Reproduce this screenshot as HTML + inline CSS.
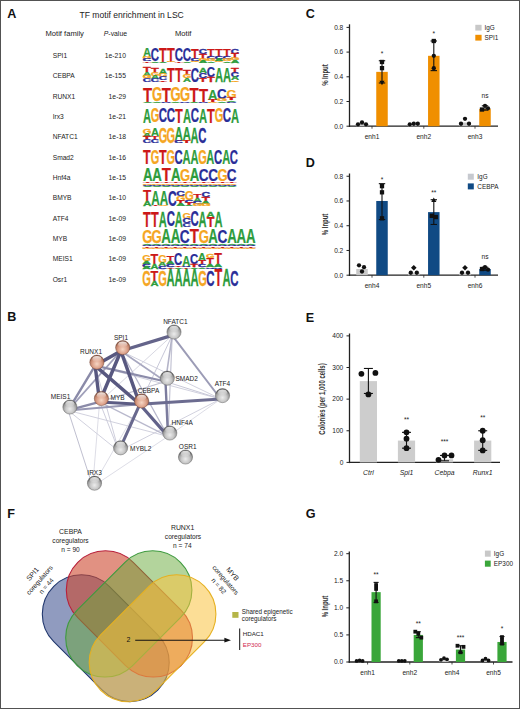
<!DOCTYPE html>
<html><head><meta charset="utf-8"><style>
html,body{margin:0;padding:0;background:#fff;}
#fig{position:relative;width:520px;height:709px;overflow:hidden;background:#fff;}
#fig svg{position:absolute;left:0;top:0;}
text{font-family:"Liberation Sans", sans-serif;}
</style></head><body>
<div id="fig">
<svg width="520" height="709" viewBox="0 0 520 709">
<rect x="0" y="0" width="520" height="709" fill="#fff"/>
<text x="7.30" y="18.40" font-size="12.6" text-anchor="start" font-weight="bold" fill="#111" >A</text>
<text x="79.5" y="17.8" font-size="9.1" fill="#222" textLength="104.3" lengthAdjust="spacingAndGlyphs">TF motif enrichment in LSC</text>
<text x="45.50" y="36.00" font-size="7.6" text-anchor="start" font-weight="normal" fill="#222" >Motif family</text>
<text x="103.8" y="36" font-size="7.6" fill="#222" textLength="23.2" lengthAdjust="spacingAndGlyphs"><tspan font-style="italic">P</tspan>-value</text>
<text x="175.00" y="36.00" font-size="7.6" text-anchor="start" font-weight="normal" fill="#222" >Motif</text>
<text transform="translate(52.7,57.90) scale(0.875,1)" font-size="7.6" fill="#222">SPI1</text>
<text transform="translate(125.9,57.90) scale(0.89,1)" font-size="7.6" fill="#222" text-anchor="end">1e-210</text>
<text transform="translate(142.97,57.41) scale(0.1118,0.1294)" font-size="100" font-weight="bold" fill="#2d9c3c" stroke="#2d9c3c" stroke-width="0.2" vector-effect="non-scaling-stroke">A</text>
<text transform="translate(142.79,59.29) scale(0.1111,0.0269)" font-size="100" font-weight="bold" fill="#f5a623" stroke="#f5a623" stroke-width="0.7" vector-effect="non-scaling-stroke">G</text>
<text transform="translate(142.78,61.20) scale(0.1147,0.0269)" font-size="100" font-weight="bold" fill="#2a2e98" stroke="#2a2e98" stroke-width="0.7" vector-effect="non-scaling-stroke">C</text>
<text transform="translate(143.11,62.50) scale(0.1274,0.0185)" font-size="100" font-weight="bold" fill="#cc1818" stroke="#cc1818" stroke-width="0.7" vector-effect="non-scaling-stroke">T</text>
<text transform="translate(150.78,61.37) scale(0.1147,0.1842)" font-size="100" font-weight="bold" fill="#2a2e98" stroke="#2a2e98" stroke-width="0.2" vector-effect="non-scaling-stroke">C</text>
<text transform="translate(150.97,62.50) scale(0.1118,0.0139)" font-size="100" font-weight="bold" fill="#2d9c3c" stroke="#2d9c3c" stroke-width="0.7" vector-effect="non-scaling-stroke">A</text>
<text transform="translate(159.11,61.70) scale(0.1274,0.1964)" font-size="100" font-weight="bold" fill="#cc1818" stroke="#cc1818" stroke-width="0.2" vector-effect="non-scaling-stroke">T</text>
<text transform="translate(158.97,62.50) scale(0.1118,0.0116)" font-size="100" font-weight="bold" fill="#2d9c3c" stroke="#2d9c3c" stroke-width="0.7" vector-effect="non-scaling-stroke">A</text>
<text transform="translate(167.11,61.70) scale(0.1274,0.1964)" font-size="100" font-weight="bold" fill="#cc1818" stroke="#cc1818" stroke-width="0.2" vector-effect="non-scaling-stroke">T</text>
<text transform="translate(166.79,62.49) scale(0.1111,0.0112)" font-size="100" font-weight="bold" fill="#f5a623" stroke="#f5a623" stroke-width="0.7" vector-effect="non-scaling-stroke">G</text>
<text transform="translate(174.78,61.37) scale(0.1147,0.1842)" font-size="100" font-weight="bold" fill="#2a2e98" stroke="#2a2e98" stroke-width="0.2" vector-effect="non-scaling-stroke">C</text>
<text transform="translate(175.11,62.50) scale(0.1274,0.0139)" font-size="100" font-weight="bold" fill="#cc1818" stroke="#cc1818" stroke-width="0.7" vector-effect="non-scaling-stroke">T</text>
<text transform="translate(182.78,61.37) scale(0.1147,0.1842)" font-size="100" font-weight="bold" fill="#2a2e98" stroke="#2a2e98" stroke-width="0.2" vector-effect="non-scaling-stroke">C</text>
<text transform="translate(182.97,62.50) scale(0.1118,0.0139)" font-size="100" font-weight="bold" fill="#2d9c3c" stroke="#2d9c3c" stroke-width="0.7" vector-effect="non-scaling-stroke">A</text>
<text transform="translate(191.11,59.00) scale(0.1274,0.1433)" font-size="100" font-weight="bold" fill="#cc1818" stroke="#cc1818" stroke-width="0.2" vector-effect="non-scaling-stroke">T</text>
<text transform="translate(190.78,60.88) scale(0.1147,0.0269)" font-size="100" font-weight="bold" fill="#2a2e98" stroke="#2a2e98" stroke-width="0.7" vector-effect="non-scaling-stroke">C</text>
<text transform="translate(190.79,62.48) scale(0.1111,0.0225)" font-size="100" font-weight="bold" fill="#f5a623" stroke="#f5a623" stroke-width="0.7" vector-effect="non-scaling-stroke">G</text>
<text transform="translate(198.78,54.16) scale(0.1147,0.0719)" font-size="100" font-weight="bold" fill="#2a2e98" stroke="#2a2e98" stroke-width="0.4" vector-effect="non-scaling-stroke">C</text>
<text transform="translate(199.11,58.68) scale(0.1274,0.0647)" font-size="100" font-weight="bold" fill="#cc1818" stroke="#cc1818" stroke-width="0.4" vector-effect="non-scaling-stroke">T</text>
<text transform="translate(198.79,60.57) scale(0.1111,0.0269)" font-size="100" font-weight="bold" fill="#f5a623" stroke="#f5a623" stroke-width="0.7" vector-effect="non-scaling-stroke">G</text>
<text transform="translate(198.97,62.50) scale(0.1118,0.0277)" font-size="100" font-weight="bold" fill="#2d9c3c" stroke="#2d9c3c" stroke-width="0.7" vector-effect="non-scaling-stroke">A</text>
<text transform="translate(207.11,56.94) scale(0.1274,0.1156)" font-size="100" font-weight="bold" fill="#cc1818" stroke="#cc1818" stroke-width="0.2" vector-effect="non-scaling-stroke">T</text>
<text transform="translate(206.78,59.29) scale(0.1147,0.0337)" font-size="100" font-weight="bold" fill="#2a2e98" stroke="#2a2e98" stroke-width="0.7" vector-effect="non-scaling-stroke">C</text>
<text transform="translate(206.79,61.20) scale(0.1111,0.0269)" font-size="100" font-weight="bold" fill="#f5a623" stroke="#f5a623" stroke-width="0.7" vector-effect="non-scaling-stroke">G</text>
<text transform="translate(206.97,62.50) scale(0.1118,0.0185)" font-size="100" font-weight="bold" fill="#2d9c3c" stroke="#2d9c3c" stroke-width="0.7" vector-effect="non-scaling-stroke">A</text>
<text transform="translate(215.11,56.94) scale(0.1274,0.1156)" font-size="100" font-weight="bold" fill="#cc1818" stroke="#cc1818" stroke-width="0.2" vector-effect="non-scaling-stroke">T</text>
<text transform="translate(214.78,59.29) scale(0.1147,0.0337)" font-size="100" font-weight="bold" fill="#2a2e98" stroke="#2a2e98" stroke-width="0.7" vector-effect="non-scaling-stroke">C</text>
<text transform="translate(214.97,61.23) scale(0.1118,0.0277)" font-size="100" font-weight="bold" fill="#2d9c3c" stroke="#2d9c3c" stroke-width="0.7" vector-effect="non-scaling-stroke">A</text>
<text transform="translate(214.79,62.48) scale(0.1111,0.0180)" font-size="100" font-weight="bold" fill="#f5a623" stroke="#f5a623" stroke-width="0.7" vector-effect="non-scaling-stroke">G</text>
<text transform="translate(223.11,56.62) scale(0.1274,0.1040)" font-size="100" font-weight="bold" fill="#cc1818" stroke="#cc1818" stroke-width="0.2" vector-effect="non-scaling-stroke">T</text>
<text transform="translate(222.78,58.97) scale(0.1147,0.0337)" font-size="100" font-weight="bold" fill="#2a2e98" stroke="#2a2e98" stroke-width="0.7" vector-effect="non-scaling-stroke">C</text>
<text transform="translate(222.79,60.88) scale(0.1111,0.0269)" font-size="100" font-weight="bold" fill="#f5a623" stroke="#f5a623" stroke-width="0.7" vector-effect="non-scaling-stroke">G</text>
<text transform="translate(222.97,62.50) scale(0.1118,0.0231)" font-size="100" font-weight="bold" fill="#2d9c3c" stroke="#2d9c3c" stroke-width="0.7" vector-effect="non-scaling-stroke">A</text>
<text transform="translate(230.78,53.85) scale(0.1147,0.0629)" font-size="100" font-weight="bold" fill="#2a2e98" stroke="#2a2e98" stroke-width="0.4" vector-effect="non-scaling-stroke">C</text>
<text transform="translate(231.11,58.37) scale(0.1274,0.0647)" font-size="100" font-weight="bold" fill="#cc1818" stroke="#cc1818" stroke-width="0.4" vector-effect="non-scaling-stroke">T</text>
<text transform="translate(230.79,60.25) scale(0.1111,0.0269)" font-size="100" font-weight="bold" fill="#f5a623" stroke="#f5a623" stroke-width="0.7" vector-effect="non-scaling-stroke">G</text>
<text transform="translate(230.97,62.50) scale(0.1118,0.0324)" font-size="100" font-weight="bold" fill="#2d9c3c" stroke="#2d9c3c" stroke-width="0.7" vector-effect="non-scaling-stroke">A</text>
<text transform="translate(52.7,78.25) scale(0.875,1)" font-size="7.6" fill="#222">CEBPA</text>
<text transform="translate(125.9,78.25) scale(0.89,1)" font-size="7.6" fill="#222" text-anchor="end">1e-155</text>
<text transform="translate(143.11,72.20) scale(0.1274,0.0643)" font-size="100" font-weight="bold" fill="#cc1818" stroke="#cc1818" stroke-width="0.4" vector-effect="non-scaling-stroke">T</text>
<text transform="translate(142.97,75.68) scale(0.1118,0.0505)" font-size="100" font-weight="bold" fill="#2d9c3c" stroke="#2d9c3c" stroke-width="0.4" vector-effect="non-scaling-stroke">A</text>
<text transform="translate(142.79,78.48) scale(0.1111,0.0402)" font-size="100" font-weight="bold" fill="#f5a623" stroke="#f5a623" stroke-width="0.7" vector-effect="non-scaling-stroke">G</text>
<text transform="translate(142.78,81.95) scale(0.1147,0.0491)" font-size="100" font-weight="bold" fill="#2a2e98" stroke="#2a2e98" stroke-width="0.4" vector-effect="non-scaling-stroke">C</text>
<text transform="translate(151.11,72.52) scale(0.1274,0.0689)" font-size="100" font-weight="bold" fill="#cc1818" stroke="#cc1818" stroke-width="0.4" vector-effect="non-scaling-stroke">T</text>
<text transform="translate(150.79,75.64) scale(0.1111,0.0446)" font-size="100" font-weight="bold" fill="#f5a623" stroke="#f5a623" stroke-width="0.4" vector-effect="non-scaling-stroke">G</text>
<text transform="translate(150.97,78.84) scale(0.1118,0.0459)" font-size="100" font-weight="bold" fill="#2d9c3c" stroke="#2d9c3c" stroke-width="0.4" vector-effect="non-scaling-stroke">A</text>
<text transform="translate(150.78,81.96) scale(0.1147,0.0446)" font-size="100" font-weight="bold" fill="#2a2e98" stroke="#2a2e98" stroke-width="0.4" vector-effect="non-scaling-stroke">C</text>
<text transform="translate(158.97,73.78) scale(0.1118,0.0735)" font-size="100" font-weight="bold" fill="#2d9c3c" stroke="#2d9c3c" stroke-width="0.4" vector-effect="non-scaling-stroke">A</text>
<text transform="translate(158.79,76.90) scale(0.1111,0.0446)" font-size="100" font-weight="bold" fill="#f5a623" stroke="#f5a623" stroke-width="0.4" vector-effect="non-scaling-stroke">G</text>
<text transform="translate(158.78,80.37) scale(0.1147,0.0491)" font-size="100" font-weight="bold" fill="#2a2e98" stroke="#2a2e98" stroke-width="0.4" vector-effect="non-scaling-stroke">C</text>
<text transform="translate(159.11,82.00) scale(0.1274,0.0230)" font-size="100" font-weight="bold" fill="#cc1818" stroke="#cc1818" stroke-width="0.7" vector-effect="non-scaling-stroke">T</text>
<text transform="translate(167.11,82.00) scale(0.1274,0.2113)" font-size="100" font-weight="bold" fill="#cc1818" stroke="#cc1818" stroke-width="0.2" vector-effect="non-scaling-stroke">T</text>
<text transform="translate(175.11,82.00) scale(0.1274,0.2113)" font-size="100" font-weight="bold" fill="#cc1818" stroke="#cc1818" stroke-width="0.2" vector-effect="non-scaling-stroke">T</text>
<text transform="translate(183.11,74.57) scale(0.1274,0.0804)" font-size="100" font-weight="bold" fill="#cc1818" stroke="#cc1818" stroke-width="0.4" vector-effect="non-scaling-stroke">T</text>
<text transform="translate(182.79,78.47) scale(0.1111,0.0558)" font-size="100" font-weight="bold" fill="#f5a623" stroke="#f5a623" stroke-width="0.4" vector-effect="non-scaling-stroke">G</text>
<text transform="translate(182.97,82.00) scale(0.1118,0.0505)" font-size="100" font-weight="bold" fill="#2d9c3c" stroke="#2d9c3c" stroke-width="0.4" vector-effect="non-scaling-stroke">A</text>
<text transform="translate(190.78,81.80) scale(0.1147,0.2008)" font-size="100" font-weight="bold" fill="#2a2e98" stroke="#2a2e98" stroke-width="0.2" vector-effect="non-scaling-stroke">C</text>
<text transform="translate(198.97,73.31) scale(0.1118,0.0804)" font-size="100" font-weight="bold" fill="#2d9c3c" stroke="#2d9c3c" stroke-width="0.4" vector-effect="non-scaling-stroke">A</text>
<text transform="translate(198.78,77.98) scale(0.1147,0.0669)" font-size="100" font-weight="bold" fill="#2a2e98" stroke="#2a2e98" stroke-width="0.4" vector-effect="non-scaling-stroke">C</text>
<text transform="translate(199.11,82.00) scale(0.1274,0.0574)" font-size="100" font-weight="bold" fill="#cc1818" stroke="#cc1818" stroke-width="0.4" vector-effect="non-scaling-stroke">T</text>
<text transform="translate(206.78,77.44) scale(0.1147,0.1384)" font-size="100" font-weight="bold" fill="#2a2e98" stroke="#2a2e98" stroke-width="0.2" vector-effect="non-scaling-stroke">C</text>
<text transform="translate(207.11,82.00) scale(0.1274,0.0643)" font-size="100" font-weight="bold" fill="#cc1818" stroke="#cc1818" stroke-width="0.4" vector-effect="non-scaling-stroke">T</text>
<text transform="translate(214.97,82.00) scale(0.1118,0.2113)" font-size="100" font-weight="bold" fill="#2d9c3c" stroke="#2d9c3c" stroke-width="0.2" vector-effect="non-scaling-stroke">A</text>
<text transform="translate(222.97,82.00) scale(0.1118,0.2113)" font-size="100" font-weight="bold" fill="#2d9c3c" stroke="#2d9c3c" stroke-width="0.2" vector-effect="non-scaling-stroke">A</text>
<text transform="translate(231.11,72.52) scale(0.1274,0.0689)" font-size="100" font-weight="bold" fill="#cc1818" stroke="#cc1818" stroke-width="0.4" vector-effect="non-scaling-stroke">T</text>
<text transform="translate(230.78,77.19) scale(0.1147,0.0669)" font-size="100" font-weight="bold" fill="#2a2e98" stroke="#2a2e98" stroke-width="0.4" vector-effect="non-scaling-stroke">C</text>
<text transform="translate(230.97,80.42) scale(0.1118,0.0459)" font-size="100" font-weight="bold" fill="#2d9c3c" stroke="#2d9c3c" stroke-width="0.4" vector-effect="non-scaling-stroke">A</text>
<text transform="translate(230.79,81.98) scale(0.1111,0.0223)" font-size="100" font-weight="bold" fill="#f5a623" stroke="#f5a623" stroke-width="0.7" vector-effect="non-scaling-stroke">G</text>
<text transform="translate(52.7,98.60) scale(0.875,1)" font-size="7.6" fill="#222">RUNX1</text>
<text transform="translate(125.9,98.60) scale(0.89,1)" font-size="7.6" fill="#222" text-anchor="end">1e-29</text>
<text transform="translate(143.08,101.67) scale(0.1494,0.2027)" font-size="100" font-weight="bold" fill="#cc1818" stroke="#cc1818" stroke-width="0.2" vector-effect="non-scaling-stroke">T</text>
<text transform="translate(142.92,103.00) scale(0.1312,0.0193)" font-size="100" font-weight="bold" fill="#2d9c3c" stroke="#2d9c3c" stroke-width="0.7" vector-effect="non-scaling-stroke">A</text>
<text transform="translate(152.02,101.48) scale(0.1304,0.1969)" font-size="100" font-weight="bold" fill="#f5a623" stroke="#f5a623" stroke-width="0.2" vector-effect="non-scaling-stroke">G</text>
<text transform="translate(152.22,103.00) scale(0.1312,0.0193)" font-size="100" font-weight="bold" fill="#2d9c3c" stroke="#2d9c3c" stroke-width="0.7" vector-effect="non-scaling-stroke">A</text>
<text transform="translate(161.68,101.67) scale(0.1494,0.2027)" font-size="100" font-weight="bold" fill="#cc1818" stroke="#cc1818" stroke-width="0.2" vector-effect="non-scaling-stroke">T</text>
<text transform="translate(161.30,102.98) scale(0.1346,0.0188)" font-size="100" font-weight="bold" fill="#2a2e98" stroke="#2a2e98" stroke-width="0.7" vector-effect="non-scaling-stroke">C</text>
<text transform="translate(170.62,101.48) scale(0.1304,0.1969)" font-size="100" font-weight="bold" fill="#f5a623" stroke="#f5a623" stroke-width="0.2" vector-effect="non-scaling-stroke">G</text>
<text transform="translate(170.82,103.00) scale(0.1312,0.0193)" font-size="100" font-weight="bold" fill="#2d9c3c" stroke="#2d9c3c" stroke-width="0.7" vector-effect="non-scaling-stroke">A</text>
<text transform="translate(179.92,101.48) scale(0.1304,0.1969)" font-size="100" font-weight="bold" fill="#f5a623" stroke="#f5a623" stroke-width="0.2" vector-effect="non-scaling-stroke">G</text>
<text transform="translate(179.90,102.98) scale(0.1346,0.0188)" font-size="100" font-weight="bold" fill="#2a2e98" stroke="#2a2e98" stroke-width="0.7" vector-effect="non-scaling-stroke">C</text>
<text transform="translate(189.58,101.67) scale(0.1494,0.2027)" font-size="100" font-weight="bold" fill="#cc1818" stroke="#cc1818" stroke-width="0.2" vector-effect="non-scaling-stroke">T</text>
<text transform="translate(189.42,103.00) scale(0.1312,0.0193)" font-size="100" font-weight="bold" fill="#2d9c3c" stroke="#2d9c3c" stroke-width="0.7" vector-effect="non-scaling-stroke">A</text>
<text transform="translate(198.88,101.67) scale(0.1494,0.1834)" font-size="100" font-weight="bold" fill="#cc1818" stroke="#cc1818" stroke-width="0.2" vector-effect="non-scaling-stroke">T</text>
<text transform="translate(198.50,102.98) scale(0.1346,0.0188)" font-size="100" font-weight="bold" fill="#2a2e98" stroke="#2a2e98" stroke-width="0.7" vector-effect="non-scaling-stroke">C</text>
<text transform="translate(208.02,99.68) scale(0.1312,0.1544)" font-size="100" font-weight="bold" fill="#2d9c3c" stroke="#2d9c3c" stroke-width="0.2" vector-effect="non-scaling-stroke">A</text>
<text transform="translate(208.18,101.67) scale(0.1494,0.0290)" font-size="100" font-weight="bold" fill="#cc1818" stroke="#cc1818" stroke-width="0.7" vector-effect="non-scaling-stroke">T</text>
<text transform="translate(207.82,102.98) scale(0.1304,0.0188)" font-size="100" font-weight="bold" fill="#f5a623" stroke="#f5a623" stroke-width="0.7" vector-effect="non-scaling-stroke">G</text>
<text transform="translate(217.10,99.21) scale(0.1346,0.1407)" font-size="100" font-weight="bold" fill="#2a2e98" stroke="#2a2e98" stroke-width="0.2" vector-effect="non-scaling-stroke">C</text>
<text transform="translate(217.12,101.31) scale(0.1304,0.0281)" font-size="100" font-weight="bold" fill="#f5a623" stroke="#f5a623" stroke-width="0.7" vector-effect="non-scaling-stroke">G</text>
<text transform="translate(217.32,103.00) scale(0.1312,0.0241)" font-size="100" font-weight="bold" fill="#2d9c3c" stroke="#2d9c3c" stroke-width="0.7" vector-effect="non-scaling-stroke">A</text>
<text transform="translate(226.42,97.57) scale(0.1304,0.1172)" font-size="100" font-weight="bold" fill="#f5a623" stroke="#f5a623" stroke-width="0.2" vector-effect="non-scaling-stroke">G</text>
<text transform="translate(226.78,100.34) scale(0.1494,0.0386)" font-size="100" font-weight="bold" fill="#cc1818" stroke="#cc1818" stroke-width="0.7" vector-effect="non-scaling-stroke">T</text>
<text transform="translate(226.62,102.00) scale(0.1312,0.0241)" font-size="100" font-weight="bold" fill="#2d9c3c" stroke="#2d9c3c" stroke-width="0.7" vector-effect="non-scaling-stroke">A</text>
<text transform="translate(226.40,102.99) scale(0.1346,0.0141)" font-size="100" font-weight="bold" fill="#2a2e98" stroke="#2a2e98" stroke-width="0.7" vector-effect="non-scaling-stroke">C</text>
<text transform="translate(52.7,118.95) scale(0.875,1)" font-size="7.6" fill="#222">Irx3</text>
<text transform="translate(125.9,118.95) scale(0.89,1)" font-size="7.6" fill="#222" text-anchor="end">1e-21</text>
<text transform="translate(142.97,122.60) scale(0.1118,0.2049)" font-size="100" font-weight="bold" fill="#2d9c3c" stroke="#2d9c3c" stroke-width="0.2" vector-effect="non-scaling-stroke">A</text>
<text transform="translate(150.79,122.41) scale(0.1111,0.1992)" font-size="100" font-weight="bold" fill="#f5a623" stroke="#f5a623" stroke-width="0.2" vector-effect="non-scaling-stroke">G</text>
<text transform="translate(158.78,122.41) scale(0.1147,0.1992)" font-size="100" font-weight="bold" fill="#2a2e98" stroke="#2a2e98" stroke-width="0.2" vector-effect="non-scaling-stroke">C</text>
<text transform="translate(166.78,122.41) scale(0.1147,0.1992)" font-size="100" font-weight="bold" fill="#2a2e98" stroke="#2a2e98" stroke-width="0.2" vector-effect="non-scaling-stroke">C</text>
<text transform="translate(175.11,122.60) scale(0.1274,0.2049)" font-size="100" font-weight="bold" fill="#cc1818" stroke="#cc1818" stroke-width="0.2" vector-effect="non-scaling-stroke">T</text>
<text transform="translate(182.97,122.60) scale(0.1118,0.2049)" font-size="100" font-weight="bold" fill="#2d9c3c" stroke="#2d9c3c" stroke-width="0.2" vector-effect="non-scaling-stroke">A</text>
<text transform="translate(190.78,122.41) scale(0.1147,0.1992)" font-size="100" font-weight="bold" fill="#2a2e98" stroke="#2a2e98" stroke-width="0.2" vector-effect="non-scaling-stroke">C</text>
<text transform="translate(198.97,122.60) scale(0.1118,0.2049)" font-size="100" font-weight="bold" fill="#2d9c3c" stroke="#2d9c3c" stroke-width="0.2" vector-effect="non-scaling-stroke">A</text>
<text transform="translate(207.11,122.60) scale(0.1274,0.2049)" font-size="100" font-weight="bold" fill="#cc1818" stroke="#cc1818" stroke-width="0.2" vector-effect="non-scaling-stroke">T</text>
<text transform="translate(214.79,122.41) scale(0.1111,0.1992)" font-size="100" font-weight="bold" fill="#f5a623" stroke="#f5a623" stroke-width="0.2" vector-effect="non-scaling-stroke">G</text>
<text transform="translate(222.78,122.41) scale(0.1147,0.1992)" font-size="100" font-weight="bold" fill="#2a2e98" stroke="#2a2e98" stroke-width="0.2" vector-effect="non-scaling-stroke">C</text>
<text transform="translate(230.97,122.60) scale(0.1118,0.2049)" font-size="100" font-weight="bold" fill="#2d9c3c" stroke="#2d9c3c" stroke-width="0.2" vector-effect="non-scaling-stroke">A</text>
<text transform="translate(52.7,139.30) scale(0.875,1)" font-size="7.6" fill="#222">NFATC1</text>
<text transform="translate(125.9,139.30) scale(0.89,1)" font-size="7.6" fill="#222" text-anchor="end">1e-18</text>
<text transform="translate(142.80,133.58) scale(0.1102,0.0661)" font-size="100" font-weight="bold" fill="#f5a623" stroke="#f5a623" stroke-width="0.4" vector-effect="non-scaling-stroke">G</text>
<text transform="translate(142.97,136.76) scale(0.1109,0.0453)" font-size="100" font-weight="bold" fill="#2d9c3c" stroke="#2d9c3c" stroke-width="0.4" vector-effect="non-scaling-stroke">A</text>
<text transform="translate(143.11,139.10) scale(0.1263,0.0340)" font-size="100" font-weight="bold" fill="#cc1818" stroke="#cc1818" stroke-width="0.7" vector-effect="non-scaling-stroke">T</text>
<text transform="translate(142.78,142.95) scale(0.1138,0.0551)" font-size="100" font-weight="bold" fill="#2a2e98" stroke="#2a2e98" stroke-width="0.4" vector-effect="non-scaling-stroke">C</text>
<text transform="translate(150.91,135.67) scale(0.1109,0.1020)" font-size="100" font-weight="bold" fill="#2d9c3c" stroke="#2d9c3c" stroke-width="0.2" vector-effect="non-scaling-stroke">A</text>
<text transform="translate(151.05,139.57) scale(0.1263,0.0567)" font-size="100" font-weight="bold" fill="#cc1818" stroke="#cc1818" stroke-width="0.4" vector-effect="non-scaling-stroke">T</text>
<text transform="translate(150.72,142.95) scale(0.1138,0.0485)" font-size="100" font-weight="bold" fill="#2a2e98" stroke="#2a2e98" stroke-width="0.4" vector-effect="non-scaling-stroke">C</text>
<text transform="translate(158.67,142.78) scale(0.1102,0.2203)" font-size="100" font-weight="bold" fill="#f5a623" stroke="#f5a623" stroke-width="0.2" vector-effect="non-scaling-stroke">G</text>
<text transform="translate(166.61,142.78) scale(0.1102,0.2203)" font-size="100" font-weight="bold" fill="#f5a623" stroke="#f5a623" stroke-width="0.2" vector-effect="non-scaling-stroke">G</text>
<text transform="translate(174.72,139.57) scale(0.1109,0.1769)" font-size="100" font-weight="bold" fill="#2d9c3c" stroke="#2d9c3c" stroke-width="0.2" vector-effect="non-scaling-stroke">A</text>
<text transform="translate(174.86,141.13) scale(0.1263,0.0227)" font-size="100" font-weight="bold" fill="#cc1818" stroke="#cc1818" stroke-width="0.7" vector-effect="non-scaling-stroke">T</text>
<text transform="translate(174.53,142.97) scale(0.1138,0.0264)" font-size="100" font-weight="bold" fill="#2a2e98" stroke="#2a2e98" stroke-width="0.7" vector-effect="non-scaling-stroke">C</text>
<text transform="translate(182.66,139.57) scale(0.1109,0.1769)" font-size="100" font-weight="bold" fill="#2d9c3c" stroke="#2d9c3c" stroke-width="0.2" vector-effect="non-scaling-stroke">A</text>
<text transform="translate(182.49,141.11) scale(0.1102,0.0220)" font-size="100" font-weight="bold" fill="#f5a623" stroke="#f5a623" stroke-width="0.7" vector-effect="non-scaling-stroke">G</text>
<text transform="translate(182.80,143.00) scale(0.1263,0.0272)" font-size="100" font-weight="bold" fill="#cc1818" stroke="#cc1818" stroke-width="0.7" vector-effect="non-scaling-stroke">T</text>
<text transform="translate(190.60,143.00) scale(0.1109,0.2267)" font-size="100" font-weight="bold" fill="#2d9c3c" stroke="#2d9c3c" stroke-width="0.2" vector-effect="non-scaling-stroke">A</text>
<text transform="translate(198.35,142.78) scale(0.1138,0.2203)" font-size="100" font-weight="bold" fill="#2a2e98" stroke="#2a2e98" stroke-width="0.2" vector-effect="non-scaling-stroke">C</text>
<text transform="translate(52.7,159.65) scale(0.875,1)" font-size="7.6" fill="#222">Smad2</text>
<text transform="translate(125.9,159.65) scale(0.89,1)" font-size="7.6" fill="#222" text-anchor="end">1e-16</text>
<text transform="translate(143.11,163.90) scale(0.1259,0.2079)" font-size="100" font-weight="bold" fill="#cc1818" stroke="#cc1818" stroke-width="0.2" vector-effect="non-scaling-stroke">T</text>
<text transform="translate(150.72,163.70) scale(0.1099,0.2020)" font-size="100" font-weight="bold" fill="#f5a623" stroke="#f5a623" stroke-width="0.2" vector-effect="non-scaling-stroke">G</text>
<text transform="translate(158.94,163.90) scale(0.1259,0.2079)" font-size="100" font-weight="bold" fill="#cc1818" stroke="#cc1818" stroke-width="0.2" vector-effect="non-scaling-stroke">T</text>
<text transform="translate(166.55,163.70) scale(0.1099,0.2020)" font-size="100" font-weight="bold" fill="#f5a623" stroke="#f5a623" stroke-width="0.2" vector-effect="non-scaling-stroke">G</text>
<text transform="translate(174.45,163.70) scale(0.1134,0.2020)" font-size="100" font-weight="bold" fill="#2a2e98" stroke="#2a2e98" stroke-width="0.2" vector-effect="non-scaling-stroke">C</text>
<text transform="translate(182.56,163.90) scale(0.1105,0.2079)" font-size="100" font-weight="bold" fill="#2d9c3c" stroke="#2d9c3c" stroke-width="0.2" vector-effect="non-scaling-stroke">A</text>
<text transform="translate(190.47,163.90) scale(0.1105,0.2079)" font-size="100" font-weight="bold" fill="#2d9c3c" stroke="#2d9c3c" stroke-width="0.2" vector-effect="non-scaling-stroke">A</text>
<text transform="translate(198.22,163.70) scale(0.1099,0.2020)" font-size="100" font-weight="bold" fill="#f5a623" stroke="#f5a623" stroke-width="0.2" vector-effect="non-scaling-stroke">G</text>
<text transform="translate(206.31,163.90) scale(0.1105,0.2079)" font-size="100" font-weight="bold" fill="#2d9c3c" stroke="#2d9c3c" stroke-width="0.2" vector-effect="non-scaling-stroke">A</text>
<text transform="translate(214.03,163.70) scale(0.1134,0.2020)" font-size="100" font-weight="bold" fill="#2a2e98" stroke="#2a2e98" stroke-width="0.2" vector-effect="non-scaling-stroke">C</text>
<text transform="translate(222.14,163.90) scale(0.1105,0.2079)" font-size="100" font-weight="bold" fill="#2d9c3c" stroke="#2d9c3c" stroke-width="0.2" vector-effect="non-scaling-stroke">A</text>
<text transform="translate(229.87,163.70) scale(0.1134,0.2020)" font-size="100" font-weight="bold" fill="#2a2e98" stroke="#2a2e98" stroke-width="0.2" vector-effect="non-scaling-stroke">C</text>
<text transform="translate(52.7,180.00) scale(0.875,1)" font-size="7.6" fill="#222">Hnf4a</text>
<text transform="translate(125.9,180.00) scale(0.89,1)" font-size="7.6" fill="#222" text-anchor="end">1e-15</text>
<text transform="translate(142.92,181.41) scale(0.1319,0.1765)" font-size="100" font-weight="bold" fill="#2d9c3c" stroke="#2d9c3c" stroke-width="0.2" vector-effect="non-scaling-stroke">A</text>
<text transform="translate(143.08,183.07) scale(0.1503,0.0241)" font-size="100" font-weight="bold" fill="#cc1818" stroke="#cc1818" stroke-width="0.7" vector-effect="non-scaling-stroke">T</text>
<text transform="translate(142.71,184.52) scale(0.1311,0.0208)" font-size="100" font-weight="bold" fill="#f5a623" stroke="#f5a623" stroke-width="0.7" vector-effect="non-scaling-stroke">G</text>
<text transform="translate(142.69,185.99) scale(0.1354,0.0208)" font-size="100" font-weight="bold" fill="#2a2e98" stroke="#2a2e98" stroke-width="0.7" vector-effect="non-scaling-stroke">C</text>
<text transform="translate(142.92,187.30) scale(0.1319,0.0187)" font-size="100" font-weight="bold" fill="#2d9c3c" stroke="#2d9c3c" stroke-width="0.7" vector-effect="non-scaling-stroke">A</text>
<text transform="translate(152.27,181.41) scale(0.1319,0.1765)" font-size="100" font-weight="bold" fill="#2d9c3c" stroke="#2d9c3c" stroke-width="0.2" vector-effect="non-scaling-stroke">A</text>
<text transform="translate(152.43,183.07) scale(0.1503,0.0241)" font-size="100" font-weight="bold" fill="#cc1818" stroke="#cc1818" stroke-width="0.7" vector-effect="non-scaling-stroke">T</text>
<text transform="translate(152.06,184.52) scale(0.1311,0.0208)" font-size="100" font-weight="bold" fill="#f5a623" stroke="#f5a623" stroke-width="0.7" vector-effect="non-scaling-stroke">G</text>
<text transform="translate(152.04,185.99) scale(0.1354,0.0208)" font-size="100" font-weight="bold" fill="#2a2e98" stroke="#2a2e98" stroke-width="0.7" vector-effect="non-scaling-stroke">C</text>
<text transform="translate(152.27,187.30) scale(0.1319,0.0187)" font-size="100" font-weight="bold" fill="#2d9c3c" stroke="#2d9c3c" stroke-width="0.7" vector-effect="non-scaling-stroke">A</text>
<text transform="translate(161.78,181.41) scale(0.1503,0.1765)" font-size="100" font-weight="bold" fill="#cc1818" stroke="#cc1818" stroke-width="0.2" vector-effect="non-scaling-stroke">T</text>
<text transform="translate(161.78,183.07) scale(0.1503,0.0241)" font-size="100" font-weight="bold" fill="#cc1818" stroke="#cc1818" stroke-width="0.7" vector-effect="non-scaling-stroke">T</text>
<text transform="translate(161.41,184.52) scale(0.1311,0.0208)" font-size="100" font-weight="bold" fill="#f5a623" stroke="#f5a623" stroke-width="0.7" vector-effect="non-scaling-stroke">G</text>
<text transform="translate(161.39,185.99) scale(0.1354,0.0208)" font-size="100" font-weight="bold" fill="#2a2e98" stroke="#2a2e98" stroke-width="0.7" vector-effect="non-scaling-stroke">C</text>
<text transform="translate(161.62,187.30) scale(0.1319,0.0187)" font-size="100" font-weight="bold" fill="#2d9c3c" stroke="#2d9c3c" stroke-width="0.7" vector-effect="non-scaling-stroke">A</text>
<text transform="translate(170.97,181.41) scale(0.1319,0.1765)" font-size="100" font-weight="bold" fill="#2d9c3c" stroke="#2d9c3c" stroke-width="0.2" vector-effect="non-scaling-stroke">A</text>
<text transform="translate(171.13,183.07) scale(0.1503,0.0241)" font-size="100" font-weight="bold" fill="#cc1818" stroke="#cc1818" stroke-width="0.7" vector-effect="non-scaling-stroke">T</text>
<text transform="translate(170.76,184.52) scale(0.1311,0.0208)" font-size="100" font-weight="bold" fill="#f5a623" stroke="#f5a623" stroke-width="0.7" vector-effect="non-scaling-stroke">G</text>
<text transform="translate(170.74,185.99) scale(0.1354,0.0208)" font-size="100" font-weight="bold" fill="#2a2e98" stroke="#2a2e98" stroke-width="0.7" vector-effect="non-scaling-stroke">C</text>
<text transform="translate(170.97,187.30) scale(0.1319,0.0187)" font-size="100" font-weight="bold" fill="#2d9c3c" stroke="#2d9c3c" stroke-width="0.7" vector-effect="non-scaling-stroke">A</text>
<text transform="translate(180.11,181.24) scale(0.1311,0.1715)" font-size="100" font-weight="bold" fill="#f5a623" stroke="#f5a623" stroke-width="0.2" vector-effect="non-scaling-stroke">G</text>
<text transform="translate(180.48,183.07) scale(0.1503,0.0241)" font-size="100" font-weight="bold" fill="#cc1818" stroke="#cc1818" stroke-width="0.7" vector-effect="non-scaling-stroke">T</text>
<text transform="translate(180.11,184.52) scale(0.1311,0.0208)" font-size="100" font-weight="bold" fill="#f5a623" stroke="#f5a623" stroke-width="0.7" vector-effect="non-scaling-stroke">G</text>
<text transform="translate(180.09,185.99) scale(0.1354,0.0208)" font-size="100" font-weight="bold" fill="#2a2e98" stroke="#2a2e98" stroke-width="0.7" vector-effect="non-scaling-stroke">C</text>
<text transform="translate(180.32,187.30) scale(0.1319,0.0187)" font-size="100" font-weight="bold" fill="#2d9c3c" stroke="#2d9c3c" stroke-width="0.7" vector-effect="non-scaling-stroke">A</text>
<text transform="translate(189.67,181.41) scale(0.1319,0.1765)" font-size="100" font-weight="bold" fill="#2d9c3c" stroke="#2d9c3c" stroke-width="0.2" vector-effect="non-scaling-stroke">A</text>
<text transform="translate(189.83,183.07) scale(0.1503,0.0241)" font-size="100" font-weight="bold" fill="#cc1818" stroke="#cc1818" stroke-width="0.7" vector-effect="non-scaling-stroke">T</text>
<text transform="translate(189.46,184.52) scale(0.1311,0.0208)" font-size="100" font-weight="bold" fill="#f5a623" stroke="#f5a623" stroke-width="0.7" vector-effect="non-scaling-stroke">G</text>
<text transform="translate(189.44,185.99) scale(0.1354,0.0208)" font-size="100" font-weight="bold" fill="#2a2e98" stroke="#2a2e98" stroke-width="0.7" vector-effect="non-scaling-stroke">C</text>
<text transform="translate(189.67,187.30) scale(0.1319,0.0187)" font-size="100" font-weight="bold" fill="#2d9c3c" stroke="#2d9c3c" stroke-width="0.7" vector-effect="non-scaling-stroke">A</text>
<text transform="translate(198.79,181.24) scale(0.1354,0.1715)" font-size="100" font-weight="bold" fill="#2a2e98" stroke="#2a2e98" stroke-width="0.2" vector-effect="non-scaling-stroke">C</text>
<text transform="translate(199.18,183.07) scale(0.1503,0.0241)" font-size="100" font-weight="bold" fill="#cc1818" stroke="#cc1818" stroke-width="0.7" vector-effect="non-scaling-stroke">T</text>
<text transform="translate(198.81,184.52) scale(0.1311,0.0208)" font-size="100" font-weight="bold" fill="#f5a623" stroke="#f5a623" stroke-width="0.7" vector-effect="non-scaling-stroke">G</text>
<text transform="translate(198.79,185.99) scale(0.1354,0.0208)" font-size="100" font-weight="bold" fill="#2a2e98" stroke="#2a2e98" stroke-width="0.7" vector-effect="non-scaling-stroke">C</text>
<text transform="translate(199.02,187.30) scale(0.1319,0.0187)" font-size="100" font-weight="bold" fill="#2d9c3c" stroke="#2d9c3c" stroke-width="0.7" vector-effect="non-scaling-stroke">A</text>
<text transform="translate(208.14,181.24) scale(0.1354,0.1715)" font-size="100" font-weight="bold" fill="#2a2e98" stroke="#2a2e98" stroke-width="0.2" vector-effect="non-scaling-stroke">C</text>
<text transform="translate(208.53,183.07) scale(0.1503,0.0241)" font-size="100" font-weight="bold" fill="#cc1818" stroke="#cc1818" stroke-width="0.7" vector-effect="non-scaling-stroke">T</text>
<text transform="translate(208.16,184.52) scale(0.1311,0.0208)" font-size="100" font-weight="bold" fill="#f5a623" stroke="#f5a623" stroke-width="0.7" vector-effect="non-scaling-stroke">G</text>
<text transform="translate(208.14,185.99) scale(0.1354,0.0208)" font-size="100" font-weight="bold" fill="#2a2e98" stroke="#2a2e98" stroke-width="0.7" vector-effect="non-scaling-stroke">C</text>
<text transform="translate(208.37,187.30) scale(0.1319,0.0187)" font-size="100" font-weight="bold" fill="#2d9c3c" stroke="#2d9c3c" stroke-width="0.7" vector-effect="non-scaling-stroke">A</text>
<text transform="translate(217.51,181.24) scale(0.1311,0.1715)" font-size="100" font-weight="bold" fill="#f5a623" stroke="#f5a623" stroke-width="0.2" vector-effect="non-scaling-stroke">G</text>
<text transform="translate(217.88,183.07) scale(0.1503,0.0241)" font-size="100" font-weight="bold" fill="#cc1818" stroke="#cc1818" stroke-width="0.7" vector-effect="non-scaling-stroke">T</text>
<text transform="translate(217.51,184.52) scale(0.1311,0.0208)" font-size="100" font-weight="bold" fill="#f5a623" stroke="#f5a623" stroke-width="0.7" vector-effect="non-scaling-stroke">G</text>
<text transform="translate(217.49,185.99) scale(0.1354,0.0208)" font-size="100" font-weight="bold" fill="#2a2e98" stroke="#2a2e98" stroke-width="0.7" vector-effect="non-scaling-stroke">C</text>
<text transform="translate(217.72,187.30) scale(0.1319,0.0187)" font-size="100" font-weight="bold" fill="#2d9c3c" stroke="#2d9c3c" stroke-width="0.7" vector-effect="non-scaling-stroke">A</text>
<text transform="translate(226.84,181.24) scale(0.1354,0.1715)" font-size="100" font-weight="bold" fill="#2a2e98" stroke="#2a2e98" stroke-width="0.2" vector-effect="non-scaling-stroke">C</text>
<text transform="translate(227.23,183.07) scale(0.1503,0.0241)" font-size="100" font-weight="bold" fill="#cc1818" stroke="#cc1818" stroke-width="0.7" vector-effect="non-scaling-stroke">T</text>
<text transform="translate(226.86,184.52) scale(0.1311,0.0208)" font-size="100" font-weight="bold" fill="#f5a623" stroke="#f5a623" stroke-width="0.7" vector-effect="non-scaling-stroke">G</text>
<text transform="translate(226.84,185.99) scale(0.1354,0.0208)" font-size="100" font-weight="bold" fill="#2a2e98" stroke="#2a2e98" stroke-width="0.7" vector-effect="non-scaling-stroke">C</text>
<text transform="translate(227.07,187.30) scale(0.1319,0.0187)" font-size="100" font-weight="bold" fill="#2d9c3c" stroke="#2d9c3c" stroke-width="0.7" vector-effect="non-scaling-stroke">A</text>
<text transform="translate(52.7,200.35) scale(0.875,1)" font-size="7.6" fill="#222">BMYB</text>
<text transform="translate(125.9,200.35) scale(0.89,1)" font-size="7.6" fill="#222" text-anchor="end">1e-10</text>
<text transform="translate(143.10,201.81) scale(0.1337,0.1621)" font-size="100" font-weight="bold" fill="#cc1818" stroke="#cc1818" stroke-width="0.2" vector-effect="non-scaling-stroke">T</text>
<text transform="translate(142.96,206.40) scale(0.1174,0.0667)" font-size="100" font-weight="bold" fill="#2d9c3c" stroke="#2d9c3c" stroke-width="0.4" vector-effect="non-scaling-stroke">A</text>
<text transform="translate(151.33,205.42) scale(0.1174,0.2098)" font-size="100" font-weight="bold" fill="#2d9c3c" stroke="#2d9c3c" stroke-width="0.2" vector-effect="non-scaling-stroke">A</text>
<text transform="translate(151.47,206.40) scale(0.1337,0.0143)" font-size="100" font-weight="bold" fill="#cc1818" stroke="#cc1818" stroke-width="0.7" vector-effect="non-scaling-stroke">T</text>
<text transform="translate(159.71,205.42) scale(0.1174,0.2098)" font-size="100" font-weight="bold" fill="#2d9c3c" stroke="#2d9c3c" stroke-width="0.2" vector-effect="non-scaling-stroke">A</text>
<text transform="translate(159.52,206.39) scale(0.1167,0.0139)" font-size="100" font-weight="bold" fill="#f5a623" stroke="#f5a623" stroke-width="0.7" vector-effect="non-scaling-stroke">G</text>
<text transform="translate(167.88,206.19) scale(0.1204,0.2131)" font-size="100" font-weight="bold" fill="#2a2e98" stroke="#2a2e98" stroke-width="0.2" vector-effect="non-scaling-stroke">C</text>
<text transform="translate(176.26,196.16) scale(0.1204,0.0695)" font-size="100" font-weight="bold" fill="#2a2e98" stroke="#2a2e98" stroke-width="0.4" vector-effect="non-scaling-stroke">C</text>
<text transform="translate(176.27,201.08) scale(0.1167,0.0695)" font-size="100" font-weight="bold" fill="#f5a623" stroke="#f5a623" stroke-width="0.4" vector-effect="non-scaling-stroke">G</text>
<text transform="translate(176.60,204.43) scale(0.1337,0.0477)" font-size="100" font-weight="bold" fill="#cc1818" stroke="#cc1818" stroke-width="0.4" vector-effect="non-scaling-stroke">T</text>
<text transform="translate(176.46,206.40) scale(0.1174,0.0286)" font-size="100" font-weight="bold" fill="#2d9c3c" stroke="#2d9c3c" stroke-width="0.7" vector-effect="non-scaling-stroke">A</text>
<text transform="translate(184.65,200.21) scale(0.1167,0.1274)" font-size="100" font-weight="bold" fill="#f5a623" stroke="#f5a623" stroke-width="0.2" vector-effect="non-scaling-stroke">G</text>
<text transform="translate(184.63,202.76) scale(0.1204,0.0347)" font-size="100" font-weight="bold" fill="#2a2e98" stroke="#2a2e98" stroke-width="0.7" vector-effect="non-scaling-stroke">C</text>
<text transform="translate(184.97,204.76) scale(0.1337,0.0286)" font-size="100" font-weight="bold" fill="#cc1818" stroke="#cc1818" stroke-width="0.7" vector-effect="non-scaling-stroke">T</text>
<text transform="translate(184.83,206.40) scale(0.1174,0.0238)" font-size="100" font-weight="bold" fill="#2d9c3c" stroke="#2d9c3c" stroke-width="0.7" vector-effect="non-scaling-stroke">A</text>
<text transform="translate(193.35,197.87) scale(0.1337,0.0596)" font-size="100" font-weight="bold" fill="#cc1818" stroke="#cc1818" stroke-width="0.4" vector-effect="non-scaling-stroke">T</text>
<text transform="translate(193.21,201.97) scale(0.1174,0.0596)" font-size="100" font-weight="bold" fill="#2d9c3c" stroke="#2d9c3c" stroke-width="0.4" vector-effect="non-scaling-stroke">A</text>
<text transform="translate(193.01,204.40) scale(0.1204,0.0347)" font-size="100" font-weight="bold" fill="#2a2e98" stroke="#2a2e98" stroke-width="0.7" vector-effect="non-scaling-stroke">C</text>
<text transform="translate(193.02,206.37) scale(0.1167,0.0278)" font-size="100" font-weight="bold" fill="#f5a623" stroke="#f5a623" stroke-width="0.7" vector-effect="non-scaling-stroke">G</text>
<text transform="translate(201.38,196.99) scale(0.1204,0.0649)" font-size="100" font-weight="bold" fill="#2a2e98" stroke="#2a2e98" stroke-width="0.4" vector-effect="non-scaling-stroke">C</text>
<text transform="translate(201.72,201.97) scale(0.1337,0.0715)" font-size="100" font-weight="bold" fill="#cc1818" stroke="#cc1818" stroke-width="0.4" vector-effect="non-scaling-stroke">T</text>
<text transform="translate(201.58,204.43) scale(0.1174,0.0358)" font-size="100" font-weight="bold" fill="#2d9c3c" stroke="#2d9c3c" stroke-width="0.7" vector-effect="non-scaling-stroke">A</text>
<text transform="translate(201.40,206.37) scale(0.1167,0.0278)" font-size="100" font-weight="bold" fill="#f5a623" stroke="#f5a623" stroke-width="0.7" vector-effect="non-scaling-stroke">G</text>
<text transform="translate(52.7,220.70) scale(0.875,1)" font-size="7.6" fill="#222">ATF4</text>
<text transform="translate(125.9,220.70) scale(0.89,1)" font-size="7.6" fill="#222" text-anchor="end">1e-09</text>
<text transform="translate(143.11,226.60) scale(0.1265,0.2209)" font-size="100" font-weight="bold" fill="#cc1818" stroke="#cc1818" stroke-width="0.2" vector-effect="non-scaling-stroke">T</text>
<text transform="translate(151.06,226.60) scale(0.1265,0.2209)" font-size="100" font-weight="bold" fill="#cc1818" stroke="#cc1818" stroke-width="0.2" vector-effect="non-scaling-stroke">T</text>
<text transform="translate(158.87,226.60) scale(0.1110,0.2209)" font-size="100" font-weight="bold" fill="#2d9c3c" stroke="#2d9c3c" stroke-width="0.2" vector-effect="non-scaling-stroke">A</text>
<text transform="translate(166.63,226.39) scale(0.1139,0.2147)" font-size="100" font-weight="bold" fill="#2a2e98" stroke="#2a2e98" stroke-width="0.2" vector-effect="non-scaling-stroke">C</text>
<text transform="translate(174.77,226.60) scale(0.1110,0.2209)" font-size="100" font-weight="bold" fill="#2d9c3c" stroke="#2d9c3c" stroke-width="0.2" vector-effect="non-scaling-stroke">A</text>
<text transform="translate(182.55,218.51) scale(0.1104,0.0904)" font-size="100" font-weight="bold" fill="#f5a623" stroke="#f5a623" stroke-width="0.2" vector-effect="non-scaling-stroke">G</text>
<text transform="translate(182.53,223.02) scale(0.1139,0.0633)" font-size="100" font-weight="bold" fill="#2a2e98" stroke="#2a2e98" stroke-width="0.4" vector-effect="non-scaling-stroke">C</text>
<text transform="translate(182.53,226.55) scale(0.1139,0.0497)" font-size="100" font-weight="bold" fill="#2a2e98" stroke="#2a2e98" stroke-width="0.4" vector-effect="non-scaling-stroke">C</text>
<text transform="translate(190.48,226.39) scale(0.1139,0.2147)" font-size="100" font-weight="bold" fill="#2a2e98" stroke="#2a2e98" stroke-width="0.2" vector-effect="non-scaling-stroke">C</text>
<text transform="translate(198.62,226.60) scale(0.1110,0.2209)" font-size="100" font-weight="bold" fill="#2d9c3c" stroke="#2d9c3c" stroke-width="0.2" vector-effect="non-scaling-stroke">A</text>
<text transform="translate(206.57,217.00) scale(0.1110,0.0698)" font-size="100" font-weight="bold" fill="#2d9c3c" stroke="#2d9c3c" stroke-width="0.4" vector-effect="non-scaling-stroke">A</text>
<text transform="translate(206.71,226.60) scale(0.1265,0.1395)" font-size="100" font-weight="bold" fill="#cc1818" stroke="#cc1818" stroke-width="0.2" vector-effect="non-scaling-stroke">T</text>
<text transform="translate(214.52,226.60) scale(0.1110,0.2209)" font-size="100" font-weight="bold" fill="#2d9c3c" stroke="#2d9c3c" stroke-width="0.2" vector-effect="non-scaling-stroke">A</text>
<text transform="translate(52.7,241.05) scale(0.875,1)" font-size="7.6" fill="#222">MYB</text>
<text transform="translate(125.9,241.05) scale(0.89,1)" font-size="7.6" fill="#222" text-anchor="end">1e-09</text>
<text transform="translate(142.21,242.80) scale(0.1321,0.1891)" font-size="100" font-weight="bold" fill="#f5a623" stroke="#f5a623" stroke-width="0.2" vector-effect="non-scaling-stroke">G</text>
<text transform="translate(142.42,244.73) scale(0.1329,0.0254)" font-size="100" font-weight="bold" fill="#2d9c3c" stroke="#2d9c3c" stroke-width="0.7" vector-effect="non-scaling-stroke">A</text>
<text transform="translate(142.19,246.26) scale(0.1364,0.0219)" font-size="100" font-weight="bold" fill="#2a2e98" stroke="#2a2e98" stroke-width="0.7" vector-effect="non-scaling-stroke">C</text>
<text transform="translate(142.58,247.84) scale(0.1514,0.0226)" font-size="100" font-weight="bold" fill="#cc1818" stroke="#cc1818" stroke-width="0.7" vector-effect="non-scaling-stroke">T</text>
<text transform="translate(142.21,248.98) scale(0.1321,0.0164)" font-size="100" font-weight="bold" fill="#f5a623" stroke="#f5a623" stroke-width="0.7" vector-effect="non-scaling-stroke">G</text>
<text transform="translate(151.62,242.80) scale(0.1321,0.1891)" font-size="100" font-weight="bold" fill="#f5a623" stroke="#f5a623" stroke-width="0.2" vector-effect="non-scaling-stroke">G</text>
<text transform="translate(151.84,244.73) scale(0.1329,0.0254)" font-size="100" font-weight="bold" fill="#2d9c3c" stroke="#2d9c3c" stroke-width="0.7" vector-effect="non-scaling-stroke">A</text>
<text transform="translate(151.61,246.26) scale(0.1364,0.0219)" font-size="100" font-weight="bold" fill="#2a2e98" stroke="#2a2e98" stroke-width="0.7" vector-effect="non-scaling-stroke">C</text>
<text transform="translate(152.00,247.84) scale(0.1514,0.0226)" font-size="100" font-weight="bold" fill="#cc1818" stroke="#cc1818" stroke-width="0.7" vector-effect="non-scaling-stroke">T</text>
<text transform="translate(151.62,248.98) scale(0.1321,0.0164)" font-size="100" font-weight="bold" fill="#f5a623" stroke="#f5a623" stroke-width="0.7" vector-effect="non-scaling-stroke">G</text>
<text transform="translate(161.25,242.99) scale(0.1329,0.1946)" font-size="100" font-weight="bold" fill="#2d9c3c" stroke="#2d9c3c" stroke-width="0.2" vector-effect="non-scaling-stroke">A</text>
<text transform="translate(161.25,244.73) scale(0.1329,0.0254)" font-size="100" font-weight="bold" fill="#2d9c3c" stroke="#2d9c3c" stroke-width="0.7" vector-effect="non-scaling-stroke">A</text>
<text transform="translate(161.02,246.26) scale(0.1364,0.0219)" font-size="100" font-weight="bold" fill="#2a2e98" stroke="#2a2e98" stroke-width="0.7" vector-effect="non-scaling-stroke">C</text>
<text transform="translate(161.41,247.84) scale(0.1514,0.0226)" font-size="100" font-weight="bold" fill="#cc1818" stroke="#cc1818" stroke-width="0.7" vector-effect="non-scaling-stroke">T</text>
<text transform="translate(161.04,248.98) scale(0.1321,0.0164)" font-size="100" font-weight="bold" fill="#f5a623" stroke="#f5a623" stroke-width="0.7" vector-effect="non-scaling-stroke">G</text>
<text transform="translate(170.67,242.99) scale(0.1329,0.1946)" font-size="100" font-weight="bold" fill="#2d9c3c" stroke="#2d9c3c" stroke-width="0.2" vector-effect="non-scaling-stroke">A</text>
<text transform="translate(170.67,244.73) scale(0.1329,0.0254)" font-size="100" font-weight="bold" fill="#2d9c3c" stroke="#2d9c3c" stroke-width="0.7" vector-effect="non-scaling-stroke">A</text>
<text transform="translate(170.44,246.26) scale(0.1364,0.0219)" font-size="100" font-weight="bold" fill="#2a2e98" stroke="#2a2e98" stroke-width="0.7" vector-effect="non-scaling-stroke">C</text>
<text transform="translate(170.83,247.84) scale(0.1514,0.0226)" font-size="100" font-weight="bold" fill="#cc1818" stroke="#cc1818" stroke-width="0.7" vector-effect="non-scaling-stroke">T</text>
<text transform="translate(170.46,248.98) scale(0.1321,0.0164)" font-size="100" font-weight="bold" fill="#f5a623" stroke="#f5a623" stroke-width="0.7" vector-effect="non-scaling-stroke">G</text>
<text transform="translate(179.86,242.80) scale(0.1364,0.1891)" font-size="100" font-weight="bold" fill="#2a2e98" stroke="#2a2e98" stroke-width="0.2" vector-effect="non-scaling-stroke">C</text>
<text transform="translate(180.09,244.73) scale(0.1329,0.0254)" font-size="100" font-weight="bold" fill="#2d9c3c" stroke="#2d9c3c" stroke-width="0.7" vector-effect="non-scaling-stroke">A</text>
<text transform="translate(179.86,246.26) scale(0.1364,0.0219)" font-size="100" font-weight="bold" fill="#2a2e98" stroke="#2a2e98" stroke-width="0.7" vector-effect="non-scaling-stroke">C</text>
<text transform="translate(180.25,247.84) scale(0.1514,0.0226)" font-size="100" font-weight="bold" fill="#cc1818" stroke="#cc1818" stroke-width="0.7" vector-effect="non-scaling-stroke">T</text>
<text transform="translate(179.87,248.98) scale(0.1321,0.0164)" font-size="100" font-weight="bold" fill="#f5a623" stroke="#f5a623" stroke-width="0.7" vector-effect="non-scaling-stroke">G</text>
<text transform="translate(189.66,242.99) scale(0.1514,0.1946)" font-size="100" font-weight="bold" fill="#cc1818" stroke="#cc1818" stroke-width="0.2" vector-effect="non-scaling-stroke">T</text>
<text transform="translate(189.50,244.73) scale(0.1329,0.0254)" font-size="100" font-weight="bold" fill="#2d9c3c" stroke="#2d9c3c" stroke-width="0.7" vector-effect="non-scaling-stroke">A</text>
<text transform="translate(189.27,246.26) scale(0.1364,0.0219)" font-size="100" font-weight="bold" fill="#2a2e98" stroke="#2a2e98" stroke-width="0.7" vector-effect="non-scaling-stroke">C</text>
<text transform="translate(189.66,247.84) scale(0.1514,0.0226)" font-size="100" font-weight="bold" fill="#cc1818" stroke="#cc1818" stroke-width="0.7" vector-effect="non-scaling-stroke">T</text>
<text transform="translate(189.29,248.98) scale(0.1321,0.0164)" font-size="100" font-weight="bold" fill="#f5a623" stroke="#f5a623" stroke-width="0.7" vector-effect="non-scaling-stroke">G</text>
<text transform="translate(198.71,242.80) scale(0.1321,0.1891)" font-size="100" font-weight="bold" fill="#f5a623" stroke="#f5a623" stroke-width="0.2" vector-effect="non-scaling-stroke">G</text>
<text transform="translate(198.92,244.73) scale(0.1329,0.0254)" font-size="100" font-weight="bold" fill="#2d9c3c" stroke="#2d9c3c" stroke-width="0.7" vector-effect="non-scaling-stroke">A</text>
<text transform="translate(198.69,246.26) scale(0.1364,0.0219)" font-size="100" font-weight="bold" fill="#2a2e98" stroke="#2a2e98" stroke-width="0.7" vector-effect="non-scaling-stroke">C</text>
<text transform="translate(199.08,247.84) scale(0.1514,0.0226)" font-size="100" font-weight="bold" fill="#cc1818" stroke="#cc1818" stroke-width="0.7" vector-effect="non-scaling-stroke">T</text>
<text transform="translate(198.71,248.98) scale(0.1321,0.0164)" font-size="100" font-weight="bold" fill="#f5a623" stroke="#f5a623" stroke-width="0.7" vector-effect="non-scaling-stroke">G</text>
<text transform="translate(208.34,242.99) scale(0.1329,0.1946)" font-size="100" font-weight="bold" fill="#2d9c3c" stroke="#2d9c3c" stroke-width="0.2" vector-effect="non-scaling-stroke">A</text>
<text transform="translate(208.34,244.73) scale(0.1329,0.0254)" font-size="100" font-weight="bold" fill="#2d9c3c" stroke="#2d9c3c" stroke-width="0.7" vector-effect="non-scaling-stroke">A</text>
<text transform="translate(208.11,246.26) scale(0.1364,0.0219)" font-size="100" font-weight="bold" fill="#2a2e98" stroke="#2a2e98" stroke-width="0.7" vector-effect="non-scaling-stroke">C</text>
<text transform="translate(208.50,247.84) scale(0.1514,0.0226)" font-size="100" font-weight="bold" fill="#cc1818" stroke="#cc1818" stroke-width="0.7" vector-effect="non-scaling-stroke">T</text>
<text transform="translate(208.12,248.98) scale(0.1321,0.0164)" font-size="100" font-weight="bold" fill="#f5a623" stroke="#f5a623" stroke-width="0.7" vector-effect="non-scaling-stroke">G</text>
<text transform="translate(217.52,242.80) scale(0.1364,0.1891)" font-size="100" font-weight="bold" fill="#2a2e98" stroke="#2a2e98" stroke-width="0.2" vector-effect="non-scaling-stroke">C</text>
<text transform="translate(217.75,244.73) scale(0.1329,0.0254)" font-size="100" font-weight="bold" fill="#2d9c3c" stroke="#2d9c3c" stroke-width="0.7" vector-effect="non-scaling-stroke">A</text>
<text transform="translate(217.52,246.26) scale(0.1364,0.0219)" font-size="100" font-weight="bold" fill="#2a2e98" stroke="#2a2e98" stroke-width="0.7" vector-effect="non-scaling-stroke">C</text>
<text transform="translate(217.91,247.84) scale(0.1514,0.0226)" font-size="100" font-weight="bold" fill="#cc1818" stroke="#cc1818" stroke-width="0.7" vector-effect="non-scaling-stroke">T</text>
<text transform="translate(217.54,248.98) scale(0.1321,0.0164)" font-size="100" font-weight="bold" fill="#f5a623" stroke="#f5a623" stroke-width="0.7" vector-effect="non-scaling-stroke">G</text>
<text transform="translate(227.17,242.99) scale(0.1329,0.1946)" font-size="100" font-weight="bold" fill="#2d9c3c" stroke="#2d9c3c" stroke-width="0.2" vector-effect="non-scaling-stroke">A</text>
<text transform="translate(227.17,244.73) scale(0.1329,0.0254)" font-size="100" font-weight="bold" fill="#2d9c3c" stroke="#2d9c3c" stroke-width="0.7" vector-effect="non-scaling-stroke">A</text>
<text transform="translate(226.94,246.26) scale(0.1364,0.0219)" font-size="100" font-weight="bold" fill="#2a2e98" stroke="#2a2e98" stroke-width="0.7" vector-effect="non-scaling-stroke">C</text>
<text transform="translate(227.33,247.84) scale(0.1514,0.0226)" font-size="100" font-weight="bold" fill="#cc1818" stroke="#cc1818" stroke-width="0.7" vector-effect="non-scaling-stroke">T</text>
<text transform="translate(226.96,248.98) scale(0.1321,0.0164)" font-size="100" font-weight="bold" fill="#f5a623" stroke="#f5a623" stroke-width="0.7" vector-effect="non-scaling-stroke">G</text>
<text transform="translate(236.59,242.99) scale(0.1329,0.1946)" font-size="100" font-weight="bold" fill="#2d9c3c" stroke="#2d9c3c" stroke-width="0.2" vector-effect="non-scaling-stroke">A</text>
<text transform="translate(236.59,244.73) scale(0.1329,0.0254)" font-size="100" font-weight="bold" fill="#2d9c3c" stroke="#2d9c3c" stroke-width="0.7" vector-effect="non-scaling-stroke">A</text>
<text transform="translate(236.36,246.26) scale(0.1364,0.0219)" font-size="100" font-weight="bold" fill="#2a2e98" stroke="#2a2e98" stroke-width="0.7" vector-effect="non-scaling-stroke">C</text>
<text transform="translate(236.75,247.84) scale(0.1514,0.0226)" font-size="100" font-weight="bold" fill="#cc1818" stroke="#cc1818" stroke-width="0.7" vector-effect="non-scaling-stroke">T</text>
<text transform="translate(236.37,248.98) scale(0.1321,0.0164)" font-size="100" font-weight="bold" fill="#f5a623" stroke="#f5a623" stroke-width="0.7" vector-effect="non-scaling-stroke">G</text>
<text transform="translate(246.00,242.99) scale(0.1329,0.1946)" font-size="100" font-weight="bold" fill="#2d9c3c" stroke="#2d9c3c" stroke-width="0.2" vector-effect="non-scaling-stroke">A</text>
<text transform="translate(246.00,244.73) scale(0.1329,0.0254)" font-size="100" font-weight="bold" fill="#2d9c3c" stroke="#2d9c3c" stroke-width="0.7" vector-effect="non-scaling-stroke">A</text>
<text transform="translate(245.77,246.26) scale(0.1364,0.0219)" font-size="100" font-weight="bold" fill="#2a2e98" stroke="#2a2e98" stroke-width="0.7" vector-effect="non-scaling-stroke">C</text>
<text transform="translate(246.16,247.84) scale(0.1514,0.0226)" font-size="100" font-weight="bold" fill="#cc1818" stroke="#cc1818" stroke-width="0.7" vector-effect="non-scaling-stroke">T</text>
<text transform="translate(245.79,248.98) scale(0.1321,0.0164)" font-size="100" font-weight="bold" fill="#f5a623" stroke="#f5a623" stroke-width="0.7" vector-effect="non-scaling-stroke">G</text>
<text transform="translate(52.7,261.40) scale(0.875,1)" font-size="7.6" fill="#222">MEIS1</text>
<text transform="translate(125.9,261.40) scale(0.89,1)" font-size="7.6" fill="#222" text-anchor="end">1e-09</text>
<text transform="translate(142.30,261.34) scale(0.1104,0.0977)" font-size="100" font-weight="bold" fill="#f5a623" stroke="#f5a623" stroke-width="0.2" vector-effect="non-scaling-stroke">G</text>
<text transform="translate(142.47,264.03) scale(0.1110,0.0377)" font-size="100" font-weight="bold" fill="#2d9c3c" stroke="#2d9c3c" stroke-width="0.7" vector-effect="non-scaling-stroke">A</text>
<text transform="translate(142.28,266.59) scale(0.1139,0.0367)" font-size="100" font-weight="bold" fill="#2a2e98" stroke="#2a2e98" stroke-width="0.7" vector-effect="non-scaling-stroke">C</text>
<text transform="translate(142.47,268.70) scale(0.1110,0.0302)" font-size="100" font-weight="bold" fill="#2d9c3c" stroke="#2d9c3c" stroke-width="0.7" vector-effect="non-scaling-stroke">A</text>
<text transform="translate(150.56,264.38) scale(0.1265,0.1509)" font-size="100" font-weight="bold" fill="#cc1818" stroke="#cc1818" stroke-width="0.2" vector-effect="non-scaling-stroke">T</text>
<text transform="translate(150.42,268.70) scale(0.1110,0.0629)" font-size="100" font-weight="bold" fill="#2d9c3c" stroke="#2d9c3c" stroke-width="0.4" vector-effect="non-scaling-stroke">A</text>
<text transform="translate(158.20,262.54) scale(0.1104,0.1100)" font-size="100" font-weight="bold" fill="#f5a623" stroke="#f5a623" stroke-width="0.2" vector-effect="non-scaling-stroke">G</text>
<text transform="translate(158.37,266.10) scale(0.1110,0.0503)" font-size="100" font-weight="bold" fill="#2d9c3c" stroke="#2d9c3c" stroke-width="0.4" vector-effect="non-scaling-stroke">A</text>
<text transform="translate(158.18,268.66) scale(0.1139,0.0367)" font-size="100" font-weight="bold" fill="#2a2e98" stroke="#2a2e98" stroke-width="0.7" vector-effect="non-scaling-stroke">C</text>
<text transform="translate(166.46,261.78) scale(0.1265,0.0956)" font-size="100" font-weight="bold" fill="#cc1818" stroke="#cc1818" stroke-width="0.2" vector-effect="non-scaling-stroke">T</text>
<text transform="translate(166.32,264.37) scale(0.1110,0.0377)" font-size="100" font-weight="bold" fill="#2d9c3c" stroke="#2d9c3c" stroke-width="0.7" vector-effect="non-scaling-stroke">A</text>
<text transform="translate(166.13,266.93) scale(0.1139,0.0367)" font-size="100" font-weight="bold" fill="#2a2e98" stroke="#2a2e98" stroke-width="0.7" vector-effect="non-scaling-stroke">C</text>
<text transform="translate(166.46,268.70) scale(0.1265,0.0251)" font-size="100" font-weight="bold" fill="#cc1818" stroke="#cc1818" stroke-width="0.7" vector-effect="non-scaling-stroke">T</text>
<text transform="translate(174.08,265.08) scale(0.1139,0.1588)" font-size="100" font-weight="bold" fill="#2a2e98" stroke="#2a2e98" stroke-width="0.2" vector-effect="non-scaling-stroke">C</text>
<text transform="translate(174.41,266.97) scale(0.1265,0.0251)" font-size="100" font-weight="bold" fill="#cc1818" stroke="#cc1818" stroke-width="0.7" vector-effect="non-scaling-stroke">T</text>
<text transform="translate(174.27,268.70) scale(0.1110,0.0251)" font-size="100" font-weight="bold" fill="#2d9c3c" stroke="#2d9c3c" stroke-width="0.7" vector-effect="non-scaling-stroke">A</text>
<text transform="translate(182.22,265.59) scale(0.1110,0.1383)" font-size="100" font-weight="bold" fill="#2d9c3c" stroke="#2d9c3c" stroke-width="0.2" vector-effect="non-scaling-stroke">A</text>
<text transform="translate(182.03,267.29) scale(0.1139,0.0244)" font-size="100" font-weight="bold" fill="#2a2e98" stroke="#2a2e98" stroke-width="0.7" vector-effect="non-scaling-stroke">C</text>
<text transform="translate(182.36,268.70) scale(0.1265,0.0201)" font-size="100" font-weight="bold" fill="#cc1818" stroke="#cc1818" stroke-width="0.7" vector-effect="non-scaling-stroke">T</text>
<text transform="translate(189.98,264.23) scale(0.1139,0.1466)" font-size="100" font-weight="bold" fill="#2a2e98" stroke="#2a2e98" stroke-width="0.2" vector-effect="non-scaling-stroke">C</text>
<text transform="translate(190.31,266.97) scale(0.1265,0.0377)" font-size="100" font-weight="bold" fill="#cc1818" stroke="#cc1818" stroke-width="0.7" vector-effect="non-scaling-stroke">T</text>
<text transform="translate(190.17,268.70) scale(0.1110,0.0251)" font-size="100" font-weight="bold" fill="#2d9c3c" stroke="#2d9c3c" stroke-width="0.7" vector-effect="non-scaling-stroke">A</text>
<text transform="translate(198.12,260.92) scale(0.1110,0.1006)" font-size="100" font-weight="bold" fill="#2d9c3c" stroke="#2d9c3c" stroke-width="0.2" vector-effect="non-scaling-stroke">A</text>
<text transform="translate(198.26,264.38) scale(0.1265,0.0503)" font-size="100" font-weight="bold" fill="#cc1818" stroke="#cc1818" stroke-width="0.4" vector-effect="non-scaling-stroke">T</text>
<text transform="translate(197.93,266.93) scale(0.1139,0.0367)" font-size="100" font-weight="bold" fill="#2a2e98" stroke="#2a2e98" stroke-width="0.7" vector-effect="non-scaling-stroke">C</text>
<text transform="translate(198.12,268.70) scale(0.1110,0.0251)" font-size="100" font-weight="bold" fill="#2d9c3c" stroke="#2d9c3c" stroke-width="0.7" vector-effect="non-scaling-stroke">A</text>
<text transform="translate(205.90,258.26) scale(0.1104,0.0611)" font-size="100" font-weight="bold" fill="#f5a623" stroke="#f5a623" stroke-width="0.4" vector-effect="non-scaling-stroke">G</text>
<text transform="translate(206.21,264.38) scale(0.1265,0.0880)" font-size="100" font-weight="bold" fill="#cc1818" stroke="#cc1818" stroke-width="0.2" vector-effect="non-scaling-stroke">T</text>
<text transform="translate(206.07,266.97) scale(0.1110,0.0377)" font-size="100" font-weight="bold" fill="#2d9c3c" stroke="#2d9c3c" stroke-width="0.7" vector-effect="non-scaling-stroke">A</text>
<text transform="translate(205.88,268.68) scale(0.1139,0.0244)" font-size="100" font-weight="bold" fill="#2a2e98" stroke="#2a2e98" stroke-width="0.7" vector-effect="non-scaling-stroke">C</text>
<text transform="translate(214.16,264.72) scale(0.1265,0.1559)" font-size="100" font-weight="bold" fill="#cc1818" stroke="#cc1818" stroke-width="0.2" vector-effect="non-scaling-stroke">T</text>
<text transform="translate(214.02,267.32) scale(0.1110,0.0377)" font-size="100" font-weight="bold" fill="#2d9c3c" stroke="#2d9c3c" stroke-width="0.7" vector-effect="non-scaling-stroke">A</text>
<text transform="translate(213.83,268.68) scale(0.1139,0.0195)" font-size="100" font-weight="bold" fill="#2a2e98" stroke="#2a2e98" stroke-width="0.7" vector-effect="non-scaling-stroke">C</text>
<text transform="translate(52.7,281.75) scale(0.875,1)" font-size="7.6" fill="#222">Osr1</text>
<text transform="translate(125.9,281.75) scale(0.89,1)" font-size="7.6" fill="#222" text-anchor="end">1e-09</text>
<text transform="translate(142.29,286.18) scale(0.1111,0.2246)" font-size="100" font-weight="bold" fill="#f5a623" stroke="#f5a623" stroke-width="0.2" vector-effect="non-scaling-stroke">G</text>
<text transform="translate(150.61,280.83) scale(0.1274,0.1502)" font-size="100" font-weight="bold" fill="#cc1818" stroke="#cc1818" stroke-width="0.2" vector-effect="non-scaling-stroke">T</text>
<text transform="translate(150.47,286.40) scale(0.1118,0.0809)" font-size="100" font-weight="bold" fill="#2d9c3c" stroke="#2d9c3c" stroke-width="0.4" vector-effect="non-scaling-stroke">A</text>
<text transform="translate(158.29,286.18) scale(0.1111,0.2246)" font-size="100" font-weight="bold" fill="#f5a623" stroke="#f5a623" stroke-width="0.2" vector-effect="non-scaling-stroke">G</text>
<text transform="translate(166.47,286.40) scale(0.1118,0.2311)" font-size="100" font-weight="bold" fill="#2d9c3c" stroke="#2d9c3c" stroke-width="0.2" vector-effect="non-scaling-stroke">A</text>
<text transform="translate(174.47,286.40) scale(0.1118,0.2311)" font-size="100" font-weight="bold" fill="#2d9c3c" stroke="#2d9c3c" stroke-width="0.2" vector-effect="non-scaling-stroke">A</text>
<text transform="translate(182.47,286.40) scale(0.1118,0.2311)" font-size="100" font-weight="bold" fill="#2d9c3c" stroke="#2d9c3c" stroke-width="0.2" vector-effect="non-scaling-stroke">A</text>
<text transform="translate(190.47,286.40) scale(0.1118,0.2311)" font-size="100" font-weight="bold" fill="#2d9c3c" stroke="#2d9c3c" stroke-width="0.2" vector-effect="non-scaling-stroke">A</text>
<text transform="translate(198.29,286.18) scale(0.1111,0.2246)" font-size="100" font-weight="bold" fill="#f5a623" stroke="#f5a623" stroke-width="0.2" vector-effect="non-scaling-stroke">G</text>
<text transform="translate(206.28,286.18) scale(0.1147,0.2246)" font-size="100" font-weight="bold" fill="#2a2e98" stroke="#2a2e98" stroke-width="0.2" vector-effect="non-scaling-stroke">C</text>
<text transform="translate(214.61,286.40) scale(0.1274,0.2311)" font-size="100" font-weight="bold" fill="#cc1818" stroke="#cc1818" stroke-width="0.2" vector-effect="non-scaling-stroke">T</text>
<text transform="translate(222.47,286.40) scale(0.1118,0.2311)" font-size="100" font-weight="bold" fill="#2d9c3c" stroke="#2d9c3c" stroke-width="0.2" vector-effect="non-scaling-stroke">A</text>
<text transform="translate(230.28,286.18) scale(0.1147,0.2246)" font-size="100" font-weight="bold" fill="#2a2e98" stroke="#2a2e98" stroke-width="0.2" vector-effect="non-scaling-stroke">C</text>
<text x="7.30" y="321.30" font-size="12.6" text-anchor="start" font-weight="bold" fill="#111" >B</text>
<defs><radialGradient id="gg" cx="0.5" cy="0.64" r="0.58"><stop offset="0" stop-color="#ececec"/><stop offset="0.5" stop-color="#c8c8c8"/><stop offset="0.82" stop-color="#999"/><stop offset="1" stop-color="#4c4c4c"/></radialGradient><radialGradient id="go" cx="0.5" cy="0.62" r="0.56"><stop offset="0" stop-color="#f6d6c4"/><stop offset="0.55" stop-color="#dda38c"/><stop offset="0.85" stop-color="#bf8068"/><stop offset="1" stop-color="#7e4e3c"/></radialGradient><linearGradient id="hl" x1="0" y1="0" x2="0" y2="1"><stop offset="0" stop-color="#fff" stop-opacity="0.85"/><stop offset="1" stop-color="#fff" stop-opacity="0"/></linearGradient></defs>
<line x1="99.60" y1="401.90" x2="92.70" y2="486.60" stroke="#d4d4e0" stroke-width="0.8" stroke-linecap="round"/>
<line x1="92.70" y1="486.60" x2="168.00" y2="436.40" stroke="#d4d4e0" stroke-width="0.8" stroke-linecap="round"/>
<line x1="168.00" y1="436.40" x2="220.70" y2="399.00" stroke="#d4d4e0" stroke-width="0.8" stroke-linecap="round"/>
<line x1="139.80" y1="404.30" x2="92.70" y2="486.60" stroke="#d4d4e0" stroke-width="0.8" stroke-linecap="round"/>
<line x1="172.20" y1="335.40" x2="99.60" y2="401.90" stroke="#d2d2de" stroke-width="0.9" stroke-linecap="round"/>
<line x1="68.10" y1="410.40" x2="168.00" y2="436.40" stroke="#ccccda" stroke-width="0.9" stroke-linecap="round"/>
<line x1="68.10" y1="410.40" x2="118.80" y2="451.20" stroke="#ccccda" stroke-width="0.9" stroke-linecap="round"/>
<line x1="118.80" y1="451.20" x2="220.70" y2="399.00" stroke="#ccccda" stroke-width="0.9" stroke-linecap="round"/>
<line x1="99.60" y1="401.90" x2="118.80" y2="451.20" stroke="#c8c8d8" stroke-width="0.9" stroke-linecap="round"/>
<line x1="95.10" y1="365.60" x2="118.80" y2="451.20" stroke="#c8c8d8" stroke-width="0.9" stroke-linecap="round"/>
<line x1="95.10" y1="365.60" x2="220.70" y2="399.00" stroke="#ccccda" stroke-width="0.9" stroke-linecap="round"/>
<line x1="120.90" y1="351.00" x2="220.70" y2="399.00" stroke="#ccccda" stroke-width="0.9" stroke-linecap="round"/>
<line x1="172.20" y1="335.40" x2="139.80" y2="404.30" stroke="#c8c8d8" stroke-width="1.0" stroke-linecap="round"/>
<line x1="68.10" y1="410.40" x2="92.70" y2="486.60" stroke="#c0c0d0" stroke-width="1.0" stroke-linecap="round"/>
<line x1="165.50" y1="381.50" x2="220.70" y2="399.00" stroke="#c8c8d8" stroke-width="1.0" stroke-linecap="round"/>
<line x1="172.20" y1="335.40" x2="168.00" y2="436.40" stroke="#c4c4d4" stroke-width="1.2" stroke-linecap="round"/>
<line x1="120.90" y1="351.00" x2="168.00" y2="436.40" stroke="#b8b8cc" stroke-width="1.2" stroke-linecap="round"/>
<line x1="99.60" y1="401.90" x2="168.00" y2="436.40" stroke="#b8b8cc" stroke-width="1.2" stroke-linecap="round"/>
<line x1="165.50" y1="381.50" x2="99.60" y2="401.90" stroke="#c0c0d0" stroke-width="1.2" stroke-linecap="round"/>
<line x1="120.90" y1="351.00" x2="165.50" y2="381.50" stroke="#a8a8c0" stroke-width="1.6" stroke-linecap="round"/>
<line x1="172.20" y1="335.40" x2="165.50" y2="381.50" stroke="#b4b4c8" stroke-width="1.6" stroke-linecap="round"/>
<line x1="68.10" y1="410.40" x2="120.90" y2="351.00" stroke="#a0a0ba" stroke-width="1.8" stroke-linecap="round"/>
<line x1="68.10" y1="410.40" x2="139.80" y2="404.30" stroke="#9898b4" stroke-width="2.0" stroke-linecap="round"/>
<line x1="172.20" y1="335.40" x2="220.70" y2="399.00" stroke="#9c9cb6" stroke-width="2.0" stroke-linecap="round"/>
<line x1="95.10" y1="365.60" x2="165.50" y2="381.50" stroke="#8c8caa" stroke-width="2.2" stroke-linecap="round"/>
<line x1="95.10" y1="365.60" x2="68.10" y2="410.40" stroke="#8a8aa8" stroke-width="2.4" stroke-linecap="round"/>
<line x1="99.60" y1="401.90" x2="68.10" y2="410.40" stroke="#8a8aa8" stroke-width="2.4" stroke-linecap="round"/>
<line x1="165.50" y1="381.50" x2="168.00" y2="436.40" stroke="#7c7c9e" stroke-width="2.4" stroke-linecap="round"/>
<line x1="99.60" y1="401.90" x2="139.80" y2="404.30" stroke="#5c5c84" stroke-width="3.0" stroke-linecap="round"/>
<line x1="139.80" y1="404.30" x2="220.70" y2="399.00" stroke="#6c6c90" stroke-width="3.0" stroke-linecap="round"/>
<line x1="139.80" y1="404.30" x2="118.80" y2="451.20" stroke="#68688e" stroke-width="3.0" stroke-linecap="round"/>
<line x1="139.80" y1="404.30" x2="168.00" y2="436.40" stroke="#62628a" stroke-width="3.2" stroke-linecap="round"/>
<line x1="120.90" y1="351.00" x2="172.20" y2="335.40" stroke="#64648a" stroke-width="3.3" stroke-linecap="round"/>
<line x1="95.10" y1="365.60" x2="99.60" y2="401.90" stroke="#585880" stroke-width="3.4" stroke-linecap="round"/>
<line x1="120.90" y1="351.00" x2="95.10" y2="365.60" stroke="#585880" stroke-width="3.5" stroke-linecap="round"/>
<line x1="120.90" y1="351.00" x2="99.60" y2="401.90" stroke="#585880" stroke-width="3.5" stroke-linecap="round"/>
<line x1="120.90" y1="351.00" x2="139.80" y2="404.30" stroke="#585880" stroke-width="3.5" stroke-linecap="round"/>
<line x1="95.10" y1="365.60" x2="139.80" y2="404.30" stroke="#585880" stroke-width="3.5" stroke-linecap="round"/>
<circle cx="122.7" cy="347.6" r="7.1" fill="url(#go)" stroke="#7a4a3a" stroke-width="0.5"/>
<ellipse cx="122.7" cy="344.30" rx="4.6" ry="2.9" fill="url(#hl)"/>
<circle cx="96.9" cy="362.2" r="7.1" fill="url(#go)" stroke="#7a4a3a" stroke-width="0.5"/>
<ellipse cx="96.9" cy="358.90" rx="4.6" ry="2.9" fill="url(#hl)"/>
<circle cx="101.4" cy="398.5" r="7.1" fill="url(#go)" stroke="#7a4a3a" stroke-width="0.5"/>
<ellipse cx="101.4" cy="395.20" rx="4.6" ry="2.9" fill="url(#hl)"/>
<circle cx="141.6" cy="400.9" r="7.1" fill="url(#go)" stroke="#7a4a3a" stroke-width="0.5"/>
<ellipse cx="141.6" cy="397.60" rx="4.6" ry="2.9" fill="url(#hl)"/>
<circle cx="174" cy="332" r="7.1" fill="url(#gg)" stroke="#6a6a6a" stroke-width="0.5"/>
<ellipse cx="174" cy="328.70" rx="4.6" ry="2.9" fill="url(#hl)"/>
<circle cx="167.3" cy="378.1" r="7.1" fill="url(#gg)" stroke="#6a6a6a" stroke-width="0.5"/>
<ellipse cx="167.3" cy="374.80" rx="4.6" ry="2.9" fill="url(#hl)"/>
<circle cx="222.5" cy="395.6" r="7.1" fill="url(#gg)" stroke="#6a6a6a" stroke-width="0.5"/>
<ellipse cx="222.5" cy="392.30" rx="4.6" ry="2.9" fill="url(#hl)"/>
<circle cx="69.9" cy="407" r="7.1" fill="url(#gg)" stroke="#6a6a6a" stroke-width="0.5"/>
<ellipse cx="69.9" cy="403.70" rx="4.6" ry="2.9" fill="url(#hl)"/>
<circle cx="169.8" cy="433" r="7.1" fill="url(#gg)" stroke="#6a6a6a" stroke-width="0.5"/>
<ellipse cx="169.8" cy="429.70" rx="4.6" ry="2.9" fill="url(#hl)"/>
<circle cx="120.6" cy="447.8" r="7.1" fill="url(#gg)" stroke="#6a6a6a" stroke-width="0.5"/>
<ellipse cx="120.6" cy="444.50" rx="4.6" ry="2.9" fill="url(#hl)"/>
<circle cx="185.5" cy="457" r="7.1" fill="url(#gg)" stroke="#6a6a6a" stroke-width="0.5"/>
<ellipse cx="185.5" cy="453.70" rx="4.6" ry="2.9" fill="url(#hl)"/>
<circle cx="94.5" cy="483.2" r="7.1" fill="url(#gg)" stroke="#6a6a6a" stroke-width="0.5"/>
<ellipse cx="94.5" cy="479.90" rx="4.6" ry="2.9" fill="url(#hl)"/>
<text x="121.00" y="339.60" font-size="6.5" text-anchor="middle" font-weight="normal" fill="#222" >SPI1</text>
<text x="91.00" y="353.50" font-size="6.5" text-anchor="middle" font-weight="normal" fill="#222" >RUNX1</text>
<text x="110.60" y="400.00" font-size="6.5" text-anchor="start" font-weight="normal" fill="#222" >MYB</text>
<text x="148.50" y="392.50" font-size="6.5" text-anchor="middle" font-weight="normal" fill="#222" >CEBPA</text>
<text x="175.40" y="324.00" font-size="6.5" text-anchor="middle" font-weight="normal" fill="#222" >NFATC1</text>
<text x="175.40" y="380.50" font-size="6.5" text-anchor="start" font-weight="normal" fill="#222" >SMAD2</text>
<text x="222.50" y="385.50" font-size="6.5" text-anchor="middle" font-weight="normal" fill="#222" >ATF4</text>
<text x="60.50" y="399.20" font-size="6.5" text-anchor="middle" font-weight="normal" fill="#222" >MEIS1</text>
<text x="171.50" y="424.70" font-size="6.5" text-anchor="start" font-weight="normal" fill="#222" >HNF4A</text>
<text x="130.00" y="451.40" font-size="6.5" text-anchor="start" font-weight="normal" fill="#222" >MYBL2</text>
<text x="187.70" y="449.40" font-size="6.5" text-anchor="middle" font-weight="normal" fill="#222" >OSR1</text>
<text x="94.60" y="475.00" font-size="6.5" text-anchor="middle" font-weight="normal" fill="#222" >IRX3</text>
<text x="305.80" y="17.50" font-size="12.6" text-anchor="start" font-weight="bold" fill="#111" >C</text>
<line x1="349.5" y1="24.30" x2="349.5" y2="126.90" stroke="#222" stroke-width="1.3"/>
<line x1="348.9" y1="126.20" x2="498" y2="126.20" stroke="#222" stroke-width="1.3"/>
<line x1="346.5" y1="126.20" x2="349.5" y2="126.20" stroke="#222" stroke-width="1"/>
<text x="343.30" y="128.50" font-size="6.6" text-anchor="end" font-weight="normal" fill="#222" >0.0</text>
<line x1="346.5" y1="101.50" x2="349.5" y2="101.50" stroke="#222" stroke-width="1"/>
<text x="343.30" y="103.80" font-size="6.6" text-anchor="end" font-weight="normal" fill="#222" >0.2</text>
<line x1="346.5" y1="76.80" x2="349.5" y2="76.80" stroke="#222" stroke-width="1"/>
<text x="343.30" y="79.10" font-size="6.6" text-anchor="end" font-weight="normal" fill="#222" >0.4</text>
<line x1="346.5" y1="52.10" x2="349.5" y2="52.10" stroke="#222" stroke-width="1"/>
<text x="343.30" y="54.40" font-size="6.6" text-anchor="end" font-weight="normal" fill="#222" >0.6</text>
<line x1="346.5" y1="27.40" x2="349.5" y2="27.40" stroke="#222" stroke-width="1"/>
<text x="343.30" y="29.70" font-size="6.6" text-anchor="end" font-weight="normal" fill="#222" >0.8</text>
<text transform="translate(328.3,75.1) rotate(-90)" font-size="8.2" font-weight="bold" text-anchor="middle" fill="#333" textLength="21.5" lengthAdjust="spacingAndGlyphs">% Input</text>
<rect x="356.25" y="123.73" width="11.50" height="2.47" fill="#c8c8c8"/>
<rect x="376.25" y="71.86" width="11.50" height="54.34" fill="#f08f00"/>
<line x1="382.00" y1="82.98" x2="382.00" y2="60.75" stroke="#111" stroke-width="1.1"/>
<line x1="378.80" y1="60.75" x2="385.20" y2="60.75" stroke="#111" stroke-width="1.1"/>
<line x1="378.80" y1="82.98" x2="385.20" y2="82.98" stroke="#111" stroke-width="1.1"/>
<circle cx="358.00" cy="124.35" r="2.15" fill="#111"/>
<circle cx="362.00" cy="122.50" r="2.15" fill="#111"/>
<circle cx="366.00" cy="124.35" r="2.15" fill="#111"/>
<rect x="379.85" y="59.83" width="4.30" height="4.30" fill="#111"/>
<rect x="379.85" y="66.00" width="4.30" height="4.30" fill="#111"/>
<path d="M379.42,80.83 L384.58,80.83 L382.00,85.34 Z" fill="#111"/>
<line x1="372" y1="126.2" x2="372" y2="128.7" stroke="#222" stroke-width="0.8"/>
<text x="372.00" y="138.50" font-size="6.6" text-anchor="middle" font-weight="normal" fill="#222" >enh1</text>
<text x="382.00" y="55.95" font-size="6.6" text-anchor="middle" font-weight="normal" fill="#222" >*</text>
<rect x="408.05" y="124.35" width="11.50" height="1.85" fill="#c8c8c8"/>
<rect x="428.05" y="55.81" width="11.50" height="70.39" fill="#f08f00"/>
<line x1="433.80" y1="70.62" x2="433.80" y2="40.99" stroke="#111" stroke-width="1.1"/>
<line x1="430.60" y1="40.99" x2="437.00" y2="40.99" stroke="#111" stroke-width="1.1"/>
<line x1="430.60" y1="70.62" x2="437.00" y2="70.62" stroke="#111" stroke-width="1.1"/>
<circle cx="409.80" cy="124.35" r="2.15" fill="#111"/>
<circle cx="413.80" cy="123.73" r="2.15" fill="#111"/>
<circle cx="417.80" cy="123.73" r="2.15" fill="#111"/>
<rect x="431.65" y="38.84" width="4.30" height="4.30" fill="#111"/>
<circle cx="433.80" cy="55.81" r="2.15" fill="#111"/>
<circle cx="433.80" cy="68.16" r="2.15" fill="#111"/>
<line x1="423.8" y1="126.2" x2="423.8" y2="128.7" stroke="#222" stroke-width="0.8"/>
<text x="423.80" y="138.50" font-size="6.6" text-anchor="middle" font-weight="normal" fill="#222" >enh2</text>
<text x="433.80" y="36.19" font-size="6.6" text-anchor="middle" font-weight="normal" fill="#222" >*</text>
<rect x="459.25" y="122.50" width="11.50" height="3.70" fill="#c8c8c8"/>
<rect x="479.25" y="108.91" width="11.50" height="17.29" fill="#f08f00"/>
<line x1="485.00" y1="110.15" x2="485.00" y2="105.82" stroke="#111" stroke-width="1.1"/>
<line x1="481.80" y1="105.82" x2="488.20" y2="105.82" stroke="#111" stroke-width="1.1"/>
<line x1="481.80" y1="110.15" x2="488.20" y2="110.15" stroke="#111" stroke-width="1.1"/>
<circle cx="461.00" cy="123.73" r="2.15" fill="#111"/>
<circle cx="465.00" cy="118.79" r="2.15" fill="#111"/>
<circle cx="469.00" cy="123.73" r="2.15" fill="#111"/>
<rect x="479.85" y="107.38" width="4.30" height="4.30" fill="#111"/>
<circle cx="485.00" cy="105.82" r="2.15" fill="#111"/>
<circle cx="488.00" cy="108.29" r="2.15" fill="#111"/>
<line x1="475" y1="126.2" x2="475" y2="128.7" stroke="#222" stroke-width="0.8"/>
<text x="475.00" y="138.50" font-size="6.6" text-anchor="middle" font-weight="normal" fill="#222" >enh3</text>
<text x="485.00" y="97.82" font-size="6.6" text-anchor="middle" font-weight="normal" fill="#222" >ns</text>
<rect x="475.3" y="24.8" width="6.3" height="5.8" fill="#c8c8c8"/>
<rect x="475.3" y="34.8" width="6.3" height="5.8" fill="#f08f00"/>
<text x="484.50" y="29.90" font-size="6.4" text-anchor="start" font-weight="normal" fill="#222" >IgG</text>
<text x="484.50" y="39.90" font-size="6.4" text-anchor="start" font-weight="normal" fill="#222" >SPI1</text>
<text x="305.80" y="166.80" font-size="12.6" text-anchor="start" font-weight="bold" fill="#111" >D</text>
<line x1="349.5" y1="173.50" x2="349.5" y2="275.90" stroke="#222" stroke-width="1.3"/>
<line x1="348.9" y1="275.20" x2="498" y2="275.20" stroke="#222" stroke-width="1.3"/>
<line x1="346.5" y1="275.20" x2="349.5" y2="275.20" stroke="#222" stroke-width="1"/>
<text x="343.30" y="277.50" font-size="6.6" text-anchor="end" font-weight="normal" fill="#222" >0.0</text>
<line x1="346.5" y1="250.46" x2="349.5" y2="250.46" stroke="#222" stroke-width="1"/>
<text x="343.30" y="252.76" font-size="6.6" text-anchor="end" font-weight="normal" fill="#222" >0.2</text>
<line x1="346.5" y1="225.72" x2="349.5" y2="225.72" stroke="#222" stroke-width="1"/>
<text x="343.30" y="228.02" font-size="6.6" text-anchor="end" font-weight="normal" fill="#222" >0.4</text>
<line x1="346.5" y1="200.98" x2="349.5" y2="200.98" stroke="#222" stroke-width="1"/>
<text x="343.30" y="203.28" font-size="6.6" text-anchor="end" font-weight="normal" fill="#222" >0.6</text>
<line x1="346.5" y1="176.24" x2="349.5" y2="176.24" stroke="#222" stroke-width="1"/>
<text x="343.30" y="178.54" font-size="6.6" text-anchor="end" font-weight="normal" fill="#222" >0.8</text>
<text transform="translate(328.3,224.4) rotate(-90)" font-size="8.2" font-weight="bold" text-anchor="middle" fill="#333" textLength="21.5" lengthAdjust="spacingAndGlyphs">% Input</text>
<rect x="356.25" y="269.01" width="11.50" height="6.19" fill="#c8c8c8"/>
<rect x="376.25" y="200.98" width="11.50" height="74.22" fill="#104a84"/>
<line x1="382.00" y1="219.53" x2="382.00" y2="183.66" stroke="#111" stroke-width="1.1"/>
<line x1="378.80" y1="183.66" x2="385.20" y2="183.66" stroke="#111" stroke-width="1.1"/>
<line x1="378.80" y1="219.53" x2="385.20" y2="219.53" stroke="#111" stroke-width="1.1"/>
<circle cx="359.00" cy="265.30" r="2.15" fill="#111"/>
<circle cx="364.00" cy="267.16" r="2.15" fill="#111"/>
<circle cx="362.00" cy="271.49" r="2.15" fill="#111"/>
<rect x="379.85" y="183.99" width="4.30" height="4.30" fill="#111"/>
<rect x="379.85" y="190.17" width="4.30" height="4.30" fill="#111"/>
<rect x="379.85" y="216.15" width="4.30" height="4.30" fill="#111"/>
<line x1="372" y1="275.2" x2="372" y2="277.7" stroke="#222" stroke-width="0.8"/>
<text x="372.00" y="287.50" font-size="6.6" text-anchor="middle" font-weight="normal" fill="#222" >enh4</text>
<text x="382.00" y="181.70" font-size="6.6" text-anchor="middle" font-weight="normal" fill="#222" >*</text>
<rect x="408.05" y="272.73" width="11.50" height="2.47" fill="#c8c8c8"/>
<rect x="428.05" y="212.11" width="11.50" height="63.09" fill="#104a84"/>
<line x1="433.80" y1="224.48" x2="433.80" y2="199.74" stroke="#111" stroke-width="1.1"/>
<line x1="430.60" y1="199.74" x2="437.00" y2="199.74" stroke="#111" stroke-width="1.1"/>
<line x1="430.60" y1="224.48" x2="437.00" y2="224.48" stroke="#111" stroke-width="1.1"/>
<circle cx="410.80" cy="272.73" r="2.15" fill="#111"/>
<path d="M413.80,264.98 L416.60,267.78 L413.80,270.57 L411.00,267.78 Z" fill="#111"/>
<circle cx="416.80" cy="272.73" r="2.15" fill="#111"/>
<path d="M431.22,201.89 L436.38,201.89 L433.80,197.38 Z" fill="#111"/>
<rect x="429.65" y="213.67" width="4.30" height="4.30" fill="#111"/>
<rect x="433.65" y="214.91" width="4.30" height="4.30" fill="#111"/>
<line x1="423.8" y1="275.2" x2="423.8" y2="277.7" stroke="#222" stroke-width="0.8"/>
<text x="423.80" y="287.50" font-size="6.6" text-anchor="middle" font-weight="normal" fill="#222" >enh5</text>
<text x="433.80" y="195.20" font-size="6.6" text-anchor="middle" font-weight="normal" fill="#222" >**</text>
<rect x="459.25" y="272.73" width="11.50" height="2.47" fill="#c8c8c8"/>
<rect x="479.25" y="269.01" width="11.50" height="6.19" fill="#104a84"/>
<line x1="485.00" y1="270.25" x2="485.00" y2="267.16" stroke="#111" stroke-width="1.1"/>
<line x1="481.80" y1="267.16" x2="488.20" y2="267.16" stroke="#111" stroke-width="1.1"/>
<line x1="481.80" y1="270.25" x2="488.20" y2="270.25" stroke="#111" stroke-width="1.1"/>
<circle cx="462.00" cy="272.73" r="2.15" fill="#111"/>
<path d="M465.00,264.98 L467.80,267.78 L465.00,270.57 L462.20,267.78 Z" fill="#111"/>
<circle cx="468.00" cy="272.73" r="2.15" fill="#111"/>
<rect x="479.85" y="266.87" width="4.30" height="4.30" fill="#111"/>
<circle cx="485.00" cy="267.16" r="2.15" fill="#111"/>
<circle cx="488.00" cy="269.63" r="2.15" fill="#111"/>
<line x1="475" y1="275.2" x2="475" y2="277.7" stroke="#222" stroke-width="0.8"/>
<text x="475.00" y="287.50" font-size="6.6" text-anchor="middle" font-weight="normal" fill="#222" >enh6</text>
<text x="485.00" y="258.90" font-size="6.6" text-anchor="middle" font-weight="normal" fill="#222" >ns</text>
<rect x="467.8" y="173.7" width="6.0" height="6.0" fill="#c6c9cf"/>
<rect x="467.8" y="183.4" width="6.0" height="6.0" fill="#104a84"/>
<text x="477.30" y="178.80" font-size="6.4" text-anchor="start" font-weight="normal" fill="#222" >IgG</text>
<text x="477.30" y="188.50" font-size="6.4" text-anchor="start" font-weight="normal" fill="#222" >CEBPA</text>
<text x="305.80" y="321.60" font-size="12.6" text-anchor="start" font-weight="bold" fill="#111" >E</text>
<line x1="349.5" y1="333.50" x2="349.5" y2="463.10" stroke="#222" stroke-width="1.3"/>
<line x1="348.9" y1="462.40" x2="500" y2="462.40" stroke="#222" stroke-width="1.3"/>
<line x1="346.5" y1="462.40" x2="349.5" y2="462.40" stroke="#222" stroke-width="1"/>
<text x="343.30" y="464.70" font-size="6.6" text-anchor="end" font-weight="normal" fill="#222" >0</text>
<line x1="346.5" y1="430.77" x2="349.5" y2="430.77" stroke="#222" stroke-width="1"/>
<text x="343.30" y="433.07" font-size="6.6" text-anchor="end" font-weight="normal" fill="#222" >100</text>
<line x1="346.5" y1="399.14" x2="349.5" y2="399.14" stroke="#222" stroke-width="1"/>
<text x="343.30" y="401.44" font-size="6.6" text-anchor="end" font-weight="normal" fill="#222" >200</text>
<line x1="346.5" y1="367.51" x2="349.5" y2="367.51" stroke="#222" stroke-width="1"/>
<text x="343.30" y="369.81" font-size="6.6" text-anchor="end" font-weight="normal" fill="#222" >300</text>
<line x1="346.5" y1="335.88" x2="349.5" y2="335.88" stroke="#222" stroke-width="1"/>
<text x="343.30" y="338.18" font-size="6.6" text-anchor="end" font-weight="normal" fill="#222" >400</text>
<text transform="translate(325.4,399) rotate(-90)" font-size="8.2" font-weight="bold" text-anchor="middle" fill="#333" textLength="71.3" lengthAdjust="spacingAndGlyphs">Colonies (per 1,000 cells)</text>
<rect x="359.80" y="381.11" width="17.20" height="81.29" fill="#cdcdcd"/>
<line x1="368.40" y1="393.45" x2="368.40" y2="368.46" stroke="#111" stroke-width="1.1"/>
<line x1="363.90" y1="368.46" x2="372.90" y2="368.46" stroke="#111" stroke-width="1.1"/>
<line x1="363.90" y1="393.45" x2="372.90" y2="393.45" stroke="#111" stroke-width="1.1"/>
<circle cx="361.40" cy="373.84" r="2.9" fill="#111"/>
<circle cx="375.40" cy="372.89" r="2.9" fill="#111"/>
<circle cx="368.40" cy="394.40" r="2.9" fill="#111"/>
<text x="368.40" y="475.30" font-size="6.8" text-anchor="middle" font-weight="normal" fill="#222" font-style="italic" >Ctrl</text>
<rect x="397.90" y="440.58" width="17.20" height="21.82" fill="#cdcdcd"/>
<line x1="406.50" y1="448.17" x2="406.50" y2="432.35" stroke="#111" stroke-width="1.1"/>
<line x1="402.00" y1="432.35" x2="411.00" y2="432.35" stroke="#111" stroke-width="1.1"/>
<line x1="402.00" y1="448.17" x2="411.00" y2="448.17" stroke="#111" stroke-width="1.1"/>
<circle cx="406.50" cy="432.35" r="2.9" fill="#111"/>
<circle cx="406.50" cy="438.68" r="2.9" fill="#111"/>
<circle cx="406.50" cy="448.17" r="2.9" fill="#111"/>
<text x="406.50" y="475.30" font-size="6.8" text-anchor="middle" font-weight="normal" fill="#222" font-style="italic" >Spi1</text>
<text x="406.50" y="421.85" font-size="6.6" text-anchor="middle" font-weight="normal" fill="#222" >**</text>
<rect x="435.90" y="459.24" width="17.20" height="3.16" fill="#cdcdcd"/>
<line x1="444.50" y1="460.82" x2="444.50" y2="455.44" stroke="#111" stroke-width="1.1"/>
<line x1="440.00" y1="455.44" x2="449.00" y2="455.44" stroke="#111" stroke-width="1.1"/>
<line x1="440.00" y1="460.82" x2="449.00" y2="460.82" stroke="#111" stroke-width="1.1"/>
<circle cx="438.50" cy="459.87" r="2.9" fill="#111"/>
<circle cx="444.50" cy="455.44" r="2.9" fill="#111"/>
<circle cx="451.50" cy="455.44" r="2.9" fill="#111"/>
<text x="444.50" y="475.30" font-size="6.8" text-anchor="middle" font-weight="normal" fill="#222" font-style="italic" >Cebpa</text>
<text x="444.50" y="444.30" font-size="6.6" text-anchor="middle" font-weight="normal" fill="#222" >***</text>
<rect x="474.10" y="440.58" width="17.20" height="21.82" fill="#cdcdcd"/>
<line x1="482.70" y1="450.38" x2="482.70" y2="430.77" stroke="#111" stroke-width="1.1"/>
<line x1="478.20" y1="430.77" x2="487.20" y2="430.77" stroke="#111" stroke-width="1.1"/>
<line x1="478.20" y1="450.38" x2="487.20" y2="450.38" stroke="#111" stroke-width="1.1"/>
<circle cx="482.70" cy="430.77" r="2.9" fill="#111"/>
<circle cx="482.70" cy="440.26" r="2.9" fill="#111"/>
<circle cx="482.70" cy="450.38" r="2.9" fill="#111"/>
<text x="482.70" y="475.30" font-size="6.8" text-anchor="middle" font-weight="normal" fill="#222" font-style="italic" >Runx1</text>
<text x="482.70" y="420.27" font-size="6.6" text-anchor="middle" font-weight="normal" fill="#222" >**</text>
<text x="7.30" y="517.70" font-size="12.6" text-anchor="start" font-weight="bold" fill="#111" >F</text>
<rect x="-39.20" y="-39.20" width="146.99" height="78.40" rx="39.2" ry="39.2" transform="translate(81.50,614.00) rotate(45.00)" fill="#34488a" fill-opacity="0.55" stroke="#22386e" stroke-width="1.1"/>
<rect x="-39.20" y="-39.20" width="146.00" height="78.40" rx="39.2" ry="39.2" transform="translate(105.50,590.00) rotate(45.00)" fill="#cd482f" fill-opacity="0.6" stroke="#b8203a" stroke-width="1.1"/>
<rect x="-39.20" y="-39.20" width="146.00" height="78.40" rx="39.2" ry="39.2" transform="translate(152.70,590.00) rotate(135.00)" fill="#68a93a" fill-opacity="0.5" stroke="#3f9a3f" stroke-width="1.1"/>
<rect x="-39.20" y="-39.20" width="146.85" height="78.40" rx="39.2" ry="39.2" transform="translate(176.70,614.00) rotate(134.88)" fill="#f9c340" fill-opacity="0.55" stroke="#e6b020" stroke-width="1.1"/>
<text x="70.50" y="534.00" font-size="6.9" text-anchor="middle" font-weight="normal" fill="#222" >CEBPA</text>
<text x="70.50" y="543.20" font-size="6.6" text-anchor="middle" font-weight="normal" fill="#222" >coregulators</text>
<text x="70.50" y="552.00" font-size="6.6" text-anchor="middle" font-weight="normal" fill="#222" >n = 90</text>
<text x="182.60" y="529.50" font-size="6.9" text-anchor="middle" font-weight="normal" fill="#222" >RUNX1</text>
<text x="183.00" y="538.90" font-size="6.6" text-anchor="middle" font-weight="normal" fill="#222" >coregulators</text>
<text x="182.30" y="547.50" font-size="6.6" text-anchor="middle" font-weight="normal" fill="#222" >n = 74</text>
<g transform="translate(39.5,580.1) rotate(-49)">
<text x="0.00" y="-6.80" font-size="7.0" text-anchor="middle" font-weight="normal" fill="#222" >SPI1</text>
<text x="0.00" y="2.30" font-size="6.6" text-anchor="middle" font-weight="normal" fill="#222" >coregulators</text>
<text x="0.00" y="11.30" font-size="6.6" text-anchor="middle" font-weight="normal" fill="#222" >n = 44</text>
</g>
<g transform="translate(225.6,580) rotate(49)">
<text x="0.00" y="-6.80" font-size="7.0" text-anchor="middle" font-weight="normal" fill="#222" >MYB</text>
<text x="0.00" y="2.30" font-size="6.6" text-anchor="middle" font-weight="normal" fill="#222" >coregulators</text>
<text x="0.00" y="11.30" font-size="6.6" text-anchor="middle" font-weight="normal" fill="#222" >n = 82</text>
</g>
<text x="128.50" y="642.20" font-size="7" text-anchor="middle" font-weight="normal" fill="#111" >2</text>
<line x1="135.2" y1="640.2" x2="225.5" y2="640.2" stroke="#111" stroke-width="1.1"/>
<path d="M231,640.2 L224.4,637.8 L224.4,642.6 Z" fill="#111"/>
<rect x="232.3" y="612" width="6.2" height="5.8" fill="#b5b548"/>
<text x="241.80" y="614.00" font-size="6.3" text-anchor="start" font-weight="normal" fill="#222" >Shared epigenetic</text>
<text x="241.80" y="620.90" font-size="6.3" text-anchor="start" font-weight="normal" fill="#222" >coregulators</text>
<line x1="239.7" y1="628.5" x2="239.7" y2="650" stroke="#111" stroke-width="1"/>
<text x="242.80" y="635.90" font-size="6.2" text-anchor="start" font-weight="normal" fill="#222" >HDAC1</text>
<text x="242.80" y="647.10" font-size="6.2" text-anchor="start" font-weight="normal" fill="#d02850" >EP300</text>
<text x="305.80" y="518.20" font-size="12.6" text-anchor="start" font-weight="bold" fill="#111" >G</text>
<line x1="349.3" y1="551.50" x2="349.3" y2="662.70" stroke="#222" stroke-width="1.3"/>
<line x1="348.7" y1="662.00" x2="512.5" y2="662.00" stroke="#222" stroke-width="1.3"/>
<line x1="346.3" y1="662.00" x2="349.3" y2="662.00" stroke="#222" stroke-width="1"/>
<text x="343.10" y="664.30" font-size="6.6" text-anchor="end" font-weight="normal" fill="#222" >0.0</text>
<line x1="346.3" y1="634.92" x2="349.3" y2="634.92" stroke="#222" stroke-width="1"/>
<text x="343.10" y="637.22" font-size="6.6" text-anchor="end" font-weight="normal" fill="#222" >0.5</text>
<line x1="346.3" y1="607.85" x2="349.3" y2="607.85" stroke="#222" stroke-width="1"/>
<text x="343.10" y="610.15" font-size="6.6" text-anchor="end" font-weight="normal" fill="#222" >1.0</text>
<line x1="346.3" y1="580.77" x2="349.3" y2="580.77" stroke="#222" stroke-width="1"/>
<text x="343.10" y="583.07" font-size="6.6" text-anchor="end" font-weight="normal" fill="#222" >1.5</text>
<line x1="346.3" y1="553.70" x2="349.3" y2="553.70" stroke="#222" stroke-width="1"/>
<text x="343.10" y="556.00" font-size="6.6" text-anchor="end" font-weight="normal" fill="#222" >2.0</text>
<text transform="translate(328.3,606.6) rotate(-90)" font-size="8.2" font-weight="bold" text-anchor="middle" fill="#333" textLength="21.5" lengthAdjust="spacingAndGlyphs">% Input</text>
<rect x="355.10" y="660.92" width="9.00" height="1.08" fill="#c8c8c8"/>
<rect x="371.50" y="592.15" width="9.20" height="69.85" fill="#3aa63a"/>
<line x1="376.10" y1="602.43" x2="376.10" y2="582.40" stroke="#111" stroke-width="1.1"/>
<line x1="373.60" y1="582.40" x2="378.60" y2="582.40" stroke="#111" stroke-width="1.1"/>
<line x1="373.60" y1="602.43" x2="378.60" y2="602.43" stroke="#111" stroke-width="1.1"/>
<circle cx="356.60" cy="660.92" r="1.9" fill="#111"/>
<circle cx="359.60" cy="660.38" r="1.9" fill="#111"/>
<circle cx="362.60" cy="660.92" r="1.9" fill="#111"/>
<rect x="374.20" y="583.21" width="3.80" height="3.80" fill="#111"/>
<rect x="374.20" y="587.00" width="3.80" height="3.80" fill="#111"/>
<rect x="374.20" y="599.45" width="3.80" height="3.80" fill="#111"/>
<line x1="367.6" y1="662" x2="367.6" y2="664.5" stroke="#222" stroke-width="0.8"/>
<text x="367.60" y="675.00" font-size="6.6" text-anchor="middle" font-weight="normal" fill="#222" >enh1</text>
<text x="376.10" y="576.90" font-size="6.6" text-anchor="middle" font-weight="normal" fill="#222" >**</text>
<rect x="397.30" y="660.92" width="9.00" height="1.08" fill="#c8c8c8"/>
<rect x="413.70" y="634.92" width="9.20" height="27.08" fill="#3aa63a"/>
<line x1="418.30" y1="637.63" x2="418.30" y2="631.68" stroke="#111" stroke-width="1.1"/>
<line x1="415.80" y1="631.68" x2="420.80" y2="631.68" stroke="#111" stroke-width="1.1"/>
<line x1="415.80" y1="637.63" x2="420.80" y2="637.63" stroke="#111" stroke-width="1.1"/>
<circle cx="398.80" cy="660.92" r="1.9" fill="#111"/>
<circle cx="401.80" cy="660.92" r="1.9" fill="#111"/>
<circle cx="404.80" cy="660.92" r="1.9" fill="#111"/>
<rect x="413.40" y="629.78" width="3.80" height="3.80" fill="#111"/>
<rect x="416.40" y="631.94" width="3.80" height="3.80" fill="#111"/>
<rect x="419.40" y="635.73" width="3.80" height="3.80" fill="#111"/>
<line x1="409.8" y1="662" x2="409.8" y2="664.5" stroke="#222" stroke-width="0.8"/>
<text x="409.80" y="675.00" font-size="6.6" text-anchor="middle" font-weight="normal" fill="#222" >enh2</text>
<text x="418.30" y="626.18" font-size="6.6" text-anchor="middle" font-weight="normal" fill="#222" >**</text>
<rect x="439.50" y="659.29" width="9.00" height="2.71" fill="#c8c8c8"/>
<rect x="455.90" y="649.55" width="9.20" height="12.45" fill="#3aa63a"/>
<line x1="460.50" y1="652.79" x2="460.50" y2="645.75" stroke="#111" stroke-width="1.1"/>
<line x1="458.00" y1="645.75" x2="463.00" y2="645.75" stroke="#111" stroke-width="1.1"/>
<line x1="458.00" y1="652.79" x2="463.00" y2="652.79" stroke="#111" stroke-width="1.1"/>
<circle cx="441.00" cy="659.83" r="1.9" fill="#111"/>
<circle cx="444.00" cy="658.21" r="1.9" fill="#111"/>
<circle cx="447.00" cy="659.29" r="1.9" fill="#111"/>
<rect x="455.60" y="643.86" width="3.80" height="3.80" fill="#111"/>
<rect x="461.60" y="644.94" width="3.80" height="3.80" fill="#111"/>
<rect x="458.60" y="650.35" width="3.80" height="3.80" fill="#111"/>
<line x1="452" y1="662" x2="452" y2="664.5" stroke="#222" stroke-width="0.8"/>
<text x="452.00" y="675.00" font-size="6.6" text-anchor="middle" font-weight="normal" fill="#222" >enh4</text>
<text x="460.50" y="640.25" font-size="6.6" text-anchor="middle" font-weight="normal" fill="#222" >***</text>
<rect x="481.00" y="660.38" width="9.00" height="1.62" fill="#c8c8c8"/>
<rect x="497.40" y="641.96" width="9.20" height="20.04" fill="#3aa63a"/>
<line x1="502.00" y1="644.13" x2="502.00" y2="636.55" stroke="#111" stroke-width="1.1"/>
<line x1="499.50" y1="636.55" x2="504.50" y2="636.55" stroke="#111" stroke-width="1.1"/>
<line x1="499.50" y1="644.13" x2="504.50" y2="644.13" stroke="#111" stroke-width="1.1"/>
<circle cx="482.50" cy="660.38" r="1.9" fill="#111"/>
<circle cx="485.50" cy="658.75" r="1.9" fill="#111"/>
<circle cx="488.50" cy="660.38" r="1.9" fill="#111"/>
<rect x="500.10" y="635.19" width="3.80" height="3.80" fill="#111"/>
<rect x="500.10" y="638.44" width="3.80" height="3.80" fill="#111"/>
<rect x="500.10" y="641.69" width="3.80" height="3.80" fill="#111"/>
<line x1="493.5" y1="662" x2="493.5" y2="664.5" stroke="#222" stroke-width="0.8"/>
<text x="493.50" y="675.00" font-size="6.6" text-anchor="middle" font-weight="normal" fill="#222" >enh5</text>
<text x="502.00" y="631.05" font-size="6.6" text-anchor="middle" font-weight="normal" fill="#222" >*</text>
<rect x="484.9" y="550.6" width="5.8" height="6.1" fill="#c8c8c8"/>
<rect x="484.9" y="560.6" width="5.8" height="6.1" fill="#3aa63a"/>
<text x="493.80" y="555.70" font-size="6.4" text-anchor="start" font-weight="normal" fill="#222" >IgG</text>
<text x="493.80" y="565.70" font-size="6.4" text-anchor="start" font-weight="normal" fill="#222" >EP300</text>
<rect x="0.5" y="0.5" width="519" height="708" fill="none" stroke="#525252" stroke-width="1"/>
</svg>
</div>
</body></html>
